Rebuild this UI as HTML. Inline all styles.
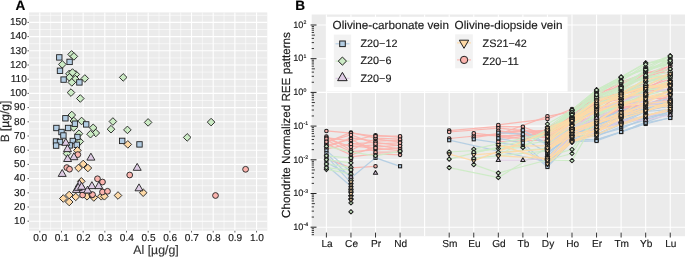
<!DOCTYPE html>
<html><head><meta charset="utf-8"><style>
html,body{margin:0;padding:0;background:#fff;overflow:hidden}
svg{display:block;will-change:transform}
text{font-family:"Liberation Sans", sans-serif;stroke:currentColor;stroke-width:0.15px;text-rendering:geometricPrecision}
</style></head><body>
<svg width="685" height="257" viewBox="0 0 685 257">
<rect width="685" height="257" fill="#fff"/>
<rect x="29.0" y="12.4" width="238.30" height="218.40" fill="#EBEBEB"/>
<line x1="50.64" y1="12.4" x2="50.64" y2="230.8" stroke="#fff" stroke-width="0.55"/>
<line x1="72.31" y1="12.4" x2="72.31" y2="230.8" stroke="#fff" stroke-width="0.55"/>
<line x1="93.99" y1="12.4" x2="93.99" y2="230.8" stroke="#fff" stroke-width="0.55"/>
<line x1="115.66" y1="12.4" x2="115.66" y2="230.8" stroke="#fff" stroke-width="0.55"/>
<line x1="137.34" y1="12.4" x2="137.34" y2="230.8" stroke="#fff" stroke-width="0.55"/>
<line x1="159.01" y1="12.4" x2="159.01" y2="230.8" stroke="#fff" stroke-width="0.55"/>
<line x1="180.69" y1="12.4" x2="180.69" y2="230.8" stroke="#fff" stroke-width="0.55"/>
<line x1="202.36" y1="12.4" x2="202.36" y2="230.8" stroke="#fff" stroke-width="0.55"/>
<line x1="224.04" y1="12.4" x2="224.04" y2="230.8" stroke="#fff" stroke-width="0.55"/>
<line x1="245.71" y1="12.4" x2="245.71" y2="230.8" stroke="#fff" stroke-width="0.55"/>
<line x1="29.0" y1="228.30" x2="267.3" y2="228.30" stroke="#fff" stroke-width="0.55"/>
<line x1="29.0" y1="214.10" x2="267.3" y2="214.10" stroke="#fff" stroke-width="0.55"/>
<line x1="29.0" y1="199.90" x2="267.3" y2="199.90" stroke="#fff" stroke-width="0.55"/>
<line x1="29.0" y1="185.70" x2="267.3" y2="185.70" stroke="#fff" stroke-width="0.55"/>
<line x1="29.0" y1="171.50" x2="267.3" y2="171.50" stroke="#fff" stroke-width="0.55"/>
<line x1="29.0" y1="157.30" x2="267.3" y2="157.30" stroke="#fff" stroke-width="0.55"/>
<line x1="29.0" y1="143.10" x2="267.3" y2="143.10" stroke="#fff" stroke-width="0.55"/>
<line x1="29.0" y1="128.90" x2="267.3" y2="128.90" stroke="#fff" stroke-width="0.55"/>
<line x1="29.0" y1="114.70" x2="267.3" y2="114.70" stroke="#fff" stroke-width="0.55"/>
<line x1="29.0" y1="100.50" x2="267.3" y2="100.50" stroke="#fff" stroke-width="0.55"/>
<line x1="29.0" y1="86.30" x2="267.3" y2="86.30" stroke="#fff" stroke-width="0.55"/>
<line x1="29.0" y1="72.10" x2="267.3" y2="72.10" stroke="#fff" stroke-width="0.55"/>
<line x1="29.0" y1="57.90" x2="267.3" y2="57.90" stroke="#fff" stroke-width="0.55"/>
<line x1="29.0" y1="43.70" x2="267.3" y2="43.70" stroke="#fff" stroke-width="0.55"/>
<line x1="29.0" y1="29.50" x2="267.3" y2="29.50" stroke="#fff" stroke-width="0.55"/>
<line x1="29.0" y1="15.30" x2="267.3" y2="15.30" stroke="#fff" stroke-width="0.55"/>
<line x1="39.80" y1="12.4" x2="39.80" y2="230.8" stroke="#fff" stroke-width="1.1"/>
<line x1="61.47" y1="12.4" x2="61.47" y2="230.8" stroke="#fff" stroke-width="1.1"/>
<line x1="83.15" y1="12.4" x2="83.15" y2="230.8" stroke="#fff" stroke-width="1.1"/>
<line x1="104.83" y1="12.4" x2="104.83" y2="230.8" stroke="#fff" stroke-width="1.1"/>
<line x1="126.50" y1="12.4" x2="126.50" y2="230.8" stroke="#fff" stroke-width="1.1"/>
<line x1="148.18" y1="12.4" x2="148.18" y2="230.8" stroke="#fff" stroke-width="1.1"/>
<line x1="169.85" y1="12.4" x2="169.85" y2="230.8" stroke="#fff" stroke-width="1.1"/>
<line x1="191.53" y1="12.4" x2="191.53" y2="230.8" stroke="#fff" stroke-width="1.1"/>
<line x1="213.20" y1="12.4" x2="213.20" y2="230.8" stroke="#fff" stroke-width="1.1"/>
<line x1="234.88" y1="12.4" x2="234.88" y2="230.8" stroke="#fff" stroke-width="1.1"/>
<line x1="256.55" y1="12.4" x2="256.55" y2="230.8" stroke="#fff" stroke-width="1.1"/>
<line x1="29.0" y1="221.20" x2="267.3" y2="221.20" stroke="#fff" stroke-width="1.1"/>
<line x1="29.0" y1="207.00" x2="267.3" y2="207.00" stroke="#fff" stroke-width="1.1"/>
<line x1="29.0" y1="192.80" x2="267.3" y2="192.80" stroke="#fff" stroke-width="1.1"/>
<line x1="29.0" y1="178.60" x2="267.3" y2="178.60" stroke="#fff" stroke-width="1.1"/>
<line x1="29.0" y1="164.40" x2="267.3" y2="164.40" stroke="#fff" stroke-width="1.1"/>
<line x1="29.0" y1="150.20" x2="267.3" y2="150.20" stroke="#fff" stroke-width="1.1"/>
<line x1="29.0" y1="136.00" x2="267.3" y2="136.00" stroke="#fff" stroke-width="1.1"/>
<line x1="29.0" y1="121.80" x2="267.3" y2="121.80" stroke="#fff" stroke-width="1.1"/>
<line x1="29.0" y1="107.60" x2="267.3" y2="107.60" stroke="#fff" stroke-width="1.1"/>
<line x1="29.0" y1="93.40" x2="267.3" y2="93.40" stroke="#fff" stroke-width="1.1"/>
<line x1="29.0" y1="79.20" x2="267.3" y2="79.20" stroke="#fff" stroke-width="1.1"/>
<line x1="29.0" y1="65.00" x2="267.3" y2="65.00" stroke="#fff" stroke-width="1.1"/>
<line x1="29.0" y1="50.80" x2="267.3" y2="50.80" stroke="#fff" stroke-width="1.1"/>
<line x1="29.0" y1="36.60" x2="267.3" y2="36.60" stroke="#fff" stroke-width="1.1"/>
<line x1="29.0" y1="22.40" x2="267.3" y2="22.40" stroke="#fff" stroke-width="1.1"/>
<line x1="39.80" y1="230.8" x2="39.80" y2="232.50" stroke="#555" stroke-width="0.9"/>
<text x="40.15" y="240.90" font-size="10.1" text-anchor="middle" fill="#1a1a1a" color="#1a1a1a" font-weight="normal" >0.0</text>
<line x1="61.47" y1="230.8" x2="61.47" y2="232.50" stroke="#555" stroke-width="0.9"/>
<text x="61.82" y="240.90" font-size="10.1" text-anchor="middle" fill="#1a1a1a" color="#1a1a1a" font-weight="normal" >0.1</text>
<line x1="83.15" y1="230.8" x2="83.15" y2="232.50" stroke="#555" stroke-width="0.9"/>
<text x="83.50" y="240.90" font-size="10.1" text-anchor="middle" fill="#1a1a1a" color="#1a1a1a" font-weight="normal" >0.2</text>
<line x1="104.83" y1="230.8" x2="104.83" y2="232.50" stroke="#555" stroke-width="0.9"/>
<text x="105.17" y="240.90" font-size="10.1" text-anchor="middle" fill="#1a1a1a" color="#1a1a1a" font-weight="normal" >0.3</text>
<line x1="126.50" y1="230.8" x2="126.50" y2="232.50" stroke="#555" stroke-width="0.9"/>
<text x="126.85" y="240.90" font-size="10.1" text-anchor="middle" fill="#1a1a1a" color="#1a1a1a" font-weight="normal" >0.4</text>
<line x1="148.18" y1="230.8" x2="148.18" y2="232.50" stroke="#555" stroke-width="0.9"/>
<text x="148.53" y="240.90" font-size="10.1" text-anchor="middle" fill="#1a1a1a" color="#1a1a1a" font-weight="normal" >0.5</text>
<line x1="169.85" y1="230.8" x2="169.85" y2="232.50" stroke="#555" stroke-width="0.9"/>
<text x="170.20" y="240.90" font-size="10.1" text-anchor="middle" fill="#1a1a1a" color="#1a1a1a" font-weight="normal" >0.6</text>
<line x1="191.53" y1="230.8" x2="191.53" y2="232.50" stroke="#555" stroke-width="0.9"/>
<text x="191.88" y="240.90" font-size="10.1" text-anchor="middle" fill="#1a1a1a" color="#1a1a1a" font-weight="normal" >0.7</text>
<line x1="213.20" y1="230.8" x2="213.20" y2="232.50" stroke="#555" stroke-width="0.9"/>
<text x="213.55" y="240.90" font-size="10.1" text-anchor="middle" fill="#1a1a1a" color="#1a1a1a" font-weight="normal" >0.8</text>
<line x1="234.88" y1="230.8" x2="234.88" y2="232.50" stroke="#555" stroke-width="0.9"/>
<text x="235.22" y="240.90" font-size="10.1" text-anchor="middle" fill="#1a1a1a" color="#1a1a1a" font-weight="normal" >0.9</text>
<line x1="256.55" y1="230.8" x2="256.55" y2="232.50" stroke="#555" stroke-width="0.9"/>
<text x="256.90" y="240.90" font-size="10.1" text-anchor="middle" fill="#1a1a1a" color="#1a1a1a" font-weight="normal" >1.0</text>
<line x1="27.50" y1="221.20" x2="29.0" y2="221.20" stroke="#555" stroke-width="0.9"/>
<text x="25.30" y="223.90" font-size="10.1" text-anchor="end" fill="#1a1a1a" color="#1a1a1a" font-weight="normal" >10</text>
<line x1="27.50" y1="207.00" x2="29.0" y2="207.00" stroke="#555" stroke-width="0.9"/>
<text x="25.30" y="209.70" font-size="10.1" text-anchor="end" fill="#1a1a1a" color="#1a1a1a" font-weight="normal" >20</text>
<line x1="27.50" y1="192.80" x2="29.0" y2="192.80" stroke="#555" stroke-width="0.9"/>
<text x="25.30" y="195.50" font-size="10.1" text-anchor="end" fill="#1a1a1a" color="#1a1a1a" font-weight="normal" >30</text>
<line x1="27.50" y1="178.60" x2="29.0" y2="178.60" stroke="#555" stroke-width="0.9"/>
<text x="25.30" y="181.30" font-size="10.1" text-anchor="end" fill="#1a1a1a" color="#1a1a1a" font-weight="normal" >40</text>
<line x1="27.50" y1="164.40" x2="29.0" y2="164.40" stroke="#555" stroke-width="0.9"/>
<text x="25.30" y="167.10" font-size="10.1" text-anchor="end" fill="#1a1a1a" color="#1a1a1a" font-weight="normal" >50</text>
<line x1="27.50" y1="150.20" x2="29.0" y2="150.20" stroke="#555" stroke-width="0.9"/>
<text x="25.30" y="152.90" font-size="10.1" text-anchor="end" fill="#1a1a1a" color="#1a1a1a" font-weight="normal" >60</text>
<line x1="27.50" y1="136.00" x2="29.0" y2="136.00" stroke="#555" stroke-width="0.9"/>
<text x="25.30" y="138.70" font-size="10.1" text-anchor="end" fill="#1a1a1a" color="#1a1a1a" font-weight="normal" >70</text>
<line x1="27.50" y1="121.80" x2="29.0" y2="121.80" stroke="#555" stroke-width="0.9"/>
<text x="25.30" y="124.50" font-size="10.1" text-anchor="end" fill="#1a1a1a" color="#1a1a1a" font-weight="normal" >80</text>
<line x1="27.50" y1="107.60" x2="29.0" y2="107.60" stroke="#555" stroke-width="0.9"/>
<text x="25.30" y="110.30" font-size="10.1" text-anchor="end" fill="#1a1a1a" color="#1a1a1a" font-weight="normal" >90</text>
<line x1="27.50" y1="93.40" x2="29.0" y2="93.40" stroke="#555" stroke-width="0.9"/>
<text x="26.80" y="96.10" font-size="10.1" text-anchor="end" fill="#1a1a1a" color="#1a1a1a" font-weight="normal" >100</text>
<line x1="27.50" y1="79.20" x2="29.0" y2="79.20" stroke="#555" stroke-width="0.9"/>
<text x="26.80" y="81.90" font-size="10.1" text-anchor="end" fill="#1a1a1a" color="#1a1a1a" font-weight="normal" >110</text>
<line x1="27.50" y1="65.00" x2="29.0" y2="65.00" stroke="#555" stroke-width="0.9"/>
<text x="26.80" y="67.70" font-size="10.1" text-anchor="end" fill="#1a1a1a" color="#1a1a1a" font-weight="normal" >120</text>
<line x1="27.50" y1="50.80" x2="29.0" y2="50.80" stroke="#555" stroke-width="0.9"/>
<text x="26.80" y="53.50" font-size="10.1" text-anchor="end" fill="#1a1a1a" color="#1a1a1a" font-weight="normal" >130</text>
<line x1="27.50" y1="36.60" x2="29.0" y2="36.60" stroke="#555" stroke-width="0.9"/>
<text x="26.80" y="39.30" font-size="10.1" text-anchor="end" fill="#1a1a1a" color="#1a1a1a" font-weight="normal" >140</text>
<line x1="27.50" y1="22.40" x2="29.0" y2="22.40" stroke="#555" stroke-width="0.9"/>
<text x="26.80" y="25.10" font-size="10.1" text-anchor="end" fill="#1a1a1a" color="#1a1a1a" font-weight="normal" >150</text>
<text x="156.00" y="254.40" font-size="12.3" text-anchor="middle" fill="#333" color="#333" font-weight="normal" >Al [µg/g]</text>
<text transform="translate(9.4 121.5) rotate(-90)" x="0" y="0" font-size="12" text-anchor="middle" fill="#333">B [µg/g]</text>
<text x="15.40" y="9.80" font-size="13.6" text-anchor="start" fill="#000" color="#000" font-weight="bold" >A</text>
<path d="M71.60 50.60L75.40 54.40L71.60 58.20L67.80 54.40Z" fill="#CCEBC5" stroke="#1f1f1f" stroke-width="0.9" stroke-linejoin="round"/>
<path d="M73.90 52.60L77.70 56.40L73.90 60.20L70.10 56.40Z" fill="#CCEBC5" stroke="#1f1f1f" stroke-width="0.9" stroke-linejoin="round"/>
<path d="M62.30 60.60L66.10 64.40L62.30 68.20L58.50 64.40Z" fill="#CCEBC5" stroke="#1f1f1f" stroke-width="0.9" stroke-linejoin="round"/>
<path d="M69.40 70.00L73.20 73.80L69.40 77.60L65.60 73.80Z" fill="#CCEBC5" stroke="#1f1f1f" stroke-width="0.9" stroke-linejoin="round"/>
<path d="M75.80 70.60L79.60 74.40L75.80 78.20L72.00 74.40Z" fill="#CCEBC5" stroke="#1f1f1f" stroke-width="0.9" stroke-linejoin="round"/>
<path d="M72.50 68.70L76.30 72.50L72.50 76.30L68.70 72.50Z" fill="#CCEBC5" stroke="#1f1f1f" stroke-width="0.9" stroke-linejoin="round"/>
<path d="M69.40 73.50L73.20 77.30L69.40 81.10L65.60 77.30Z" fill="#CCEBC5" stroke="#1f1f1f" stroke-width="0.9" stroke-linejoin="round"/>
<path d="M75.30 75.30L79.10 79.10L75.30 82.90L71.50 79.10Z" fill="#CCEBC5" stroke="#1f1f1f" stroke-width="0.9" stroke-linejoin="round"/>
<path d="M71.80 78.60L75.60 82.40L71.80 86.20L68.00 82.40Z" fill="#CCEBC5" stroke="#1f1f1f" stroke-width="0.9" stroke-linejoin="round"/>
<path d="M84.80 74.70L88.60 78.50L84.80 82.30L81.00 78.50Z" fill="#CCEBC5" stroke="#1f1f1f" stroke-width="0.9" stroke-linejoin="round"/>
<path d="M71.00 88.80L74.80 92.60L71.00 96.40L67.20 92.60Z" fill="#CCEBC5" stroke="#1f1f1f" stroke-width="0.9" stroke-linejoin="round"/>
<path d="M80.30 94.70L84.10 98.50L80.30 102.30L76.50 98.50Z" fill="#CCEBC5" stroke="#1f1f1f" stroke-width="0.9" stroke-linejoin="round"/>
<path d="M123.20 73.60L127.00 77.40L123.20 81.20L119.40 77.40Z" fill="#CCEBC5" stroke="#1f1f1f" stroke-width="0.9" stroke-linejoin="round"/>
<path d="M71.80 111.20L75.60 115.00L71.80 118.80L68.00 115.00Z" fill="#CCEBC5" stroke="#1f1f1f" stroke-width="0.9" stroke-linejoin="round"/>
<path d="M73.80 117.20L77.60 121.00L73.80 124.80L70.00 121.00Z" fill="#CCEBC5" stroke="#1f1f1f" stroke-width="0.9" stroke-linejoin="round"/>
<path d="M81.60 117.20L85.40 121.00L81.60 124.80L77.80 121.00Z" fill="#CCEBC5" stroke="#1f1f1f" stroke-width="0.9" stroke-linejoin="round"/>
<path d="M73.60 123.70L77.40 127.50L73.60 131.30L69.80 127.50Z" fill="#CCEBC5" stroke="#1f1f1f" stroke-width="0.9" stroke-linejoin="round"/>
<path d="M79.00 129.90L82.80 133.70L79.00 137.50L75.20 133.70Z" fill="#CCEBC5" stroke="#1f1f1f" stroke-width="0.9" stroke-linejoin="round"/>
<path d="M79.80 137.70L83.60 141.50L79.80 145.30L76.00 141.50Z" fill="#CCEBC5" stroke="#1f1f1f" stroke-width="0.9" stroke-linejoin="round"/>
<path d="M93.20 124.00L97.00 127.80L93.20 131.60L89.40 127.80Z" fill="#CCEBC5" stroke="#1f1f1f" stroke-width="0.9" stroke-linejoin="round"/>
<path d="M95.80 129.20L99.60 133.00L95.80 136.80L92.00 133.00Z" fill="#CCEBC5" stroke="#1f1f1f" stroke-width="0.9" stroke-linejoin="round"/>
<path d="M90.50 130.40L94.30 134.20L90.50 138.00L86.70 134.20Z" fill="#CCEBC5" stroke="#1f1f1f" stroke-width="0.9" stroke-linejoin="round"/>
<path d="M112.90 117.70L116.70 121.50L112.90 125.30L109.10 121.50Z" fill="#CCEBC5" stroke="#1f1f1f" stroke-width="0.9" stroke-linejoin="round"/>
<path d="M111.00 125.40L114.80 129.20L111.00 133.00L107.20 129.20Z" fill="#CCEBC5" stroke="#1f1f1f" stroke-width="0.9" stroke-linejoin="round"/>
<path d="M127.40 126.10L131.20 129.90L127.40 133.70L123.60 129.90Z" fill="#CCEBC5" stroke="#1f1f1f" stroke-width="0.9" stroke-linejoin="round"/>
<path d="M148.10 118.60L151.90 122.40L148.10 126.20L144.30 122.40Z" fill="#CCEBC5" stroke="#1f1f1f" stroke-width="0.9" stroke-linejoin="round"/>
<path d="M187.20 133.60L191.00 137.40L187.20 141.20L183.40 137.40Z" fill="#CCEBC5" stroke="#1f1f1f" stroke-width="0.9" stroke-linejoin="round"/>
<path d="M211.10 118.30L214.90 122.10L211.10 125.90L207.30 122.10Z" fill="#CCEBC5" stroke="#1f1f1f" stroke-width="0.9" stroke-linejoin="round"/>
<path d="M67.00 149.70L70.80 153.50L67.00 157.30L63.20 153.50Z" fill="#CCEBC5" stroke="#1f1f1f" stroke-width="0.9" stroke-linejoin="round"/>
<rect x="56.60" y="54.70" width="5.40" height="5.40" fill="#B3CDE3" stroke="#1f1f1f" stroke-width="0.9"/>
<rect x="66.90" y="59.20" width="5.40" height="5.40" fill="#B3CDE3" stroke="#1f1f1f" stroke-width="0.9"/>
<rect x="57.30" y="68.10" width="5.40" height="5.40" fill="#B3CDE3" stroke="#1f1f1f" stroke-width="0.9"/>
<rect x="60.90" y="76.90" width="5.40" height="5.40" fill="#B3CDE3" stroke="#1f1f1f" stroke-width="0.9"/>
<rect x="76.70" y="79.70" width="5.40" height="5.40" fill="#B3CDE3" stroke="#1f1f1f" stroke-width="0.9"/>
<rect x="62.70" y="115.60" width="5.40" height="5.40" fill="#B3CDE3" stroke="#1f1f1f" stroke-width="0.9"/>
<rect x="72.20" y="121.00" width="5.40" height="5.40" fill="#B3CDE3" stroke="#1f1f1f" stroke-width="0.9"/>
<rect x="83.50" y="121.70" width="5.40" height="5.40" fill="#B3CDE3" stroke="#1f1f1f" stroke-width="0.9"/>
<rect x="53.70" y="125.30" width="5.40" height="5.40" fill="#B3CDE3" stroke="#1f1f1f" stroke-width="0.9"/>
<rect x="65.40" y="125.30" width="5.40" height="5.40" fill="#B3CDE3" stroke="#1f1f1f" stroke-width="0.9"/>
<rect x="58.80" y="129.30" width="5.40" height="5.40" fill="#B3CDE3" stroke="#1f1f1f" stroke-width="0.9"/>
<rect x="60.70" y="132.80" width="5.40" height="5.40" fill="#B3CDE3" stroke="#1f1f1f" stroke-width="0.9"/>
<rect x="74.70" y="134.30" width="5.40" height="5.40" fill="#B3CDE3" stroke="#1f1f1f" stroke-width="0.9"/>
<rect x="53.30" y="138.80" width="5.40" height="5.40" fill="#B3CDE3" stroke="#1f1f1f" stroke-width="0.9"/>
<rect x="57.30" y="139.30" width="5.40" height="5.40" fill="#B3CDE3" stroke="#1f1f1f" stroke-width="0.9"/>
<rect x="70.10" y="138.30" width="5.40" height="5.40" fill="#B3CDE3" stroke="#1f1f1f" stroke-width="0.9"/>
<rect x="74.10" y="142.10" width="5.40" height="5.40" fill="#B3CDE3" stroke="#1f1f1f" stroke-width="0.9"/>
<rect x="53.40" y="142.90" width="5.40" height="5.40" fill="#B3CDE3" stroke="#1f1f1f" stroke-width="0.9"/>
<rect x="67.00" y="142.70" width="5.40" height="5.40" fill="#B3CDE3" stroke="#1f1f1f" stroke-width="0.9"/>
<rect x="119.50" y="138.20" width="5.40" height="5.40" fill="#B3CDE3" stroke="#1f1f1f" stroke-width="0.9"/>
<rect x="136.80" y="141.70" width="5.40" height="5.40" fill="#B3CDE3" stroke="#1f1f1f" stroke-width="0.9"/>
<path d="M78.50 164.20L82.30 168.00L78.50 171.80L74.70 168.00Z" fill="#FED9A6" stroke="#1f1f1f" stroke-width="0.9" stroke-linejoin="round"/>
<path d="M83.20 160.20L87.00 164.00L83.20 167.80L79.40 164.00Z" fill="#FED9A6" stroke="#1f1f1f" stroke-width="0.9" stroke-linejoin="round"/>
<path d="M87.90 164.20L91.70 168.00L87.90 171.80L84.10 168.00Z" fill="#FED9A6" stroke="#1f1f1f" stroke-width="0.9" stroke-linejoin="round"/>
<path d="M81.30 177.50L85.10 181.30L81.30 185.10L77.50 181.30Z" fill="#FED9A6" stroke="#1f1f1f" stroke-width="0.9" stroke-linejoin="round"/>
<path d="M69.20 191.20L73.00 195.00L69.20 198.80L65.40 195.00Z" fill="#FED9A6" stroke="#1f1f1f" stroke-width="0.9" stroke-linejoin="round"/>
<path d="M63.30 194.70L67.10 198.50L63.30 202.30L59.50 198.50Z" fill="#FED9A6" stroke="#1f1f1f" stroke-width="0.9" stroke-linejoin="round"/>
<path d="M69.20 198.20L73.00 202.00L69.20 205.80L65.40 202.00Z" fill="#FED9A6" stroke="#1f1f1f" stroke-width="0.9" stroke-linejoin="round"/>
<path d="M75.70 193.10L79.50 196.90L75.70 200.70L71.90 196.90Z" fill="#FED9A6" stroke="#1f1f1f" stroke-width="0.9" stroke-linejoin="round"/>
<path d="M87.00 192.50L90.80 196.30L87.00 200.10L83.20 196.30Z" fill="#FED9A6" stroke="#1f1f1f" stroke-width="0.9" stroke-linejoin="round"/>
<path d="M93.80 193.70L97.60 197.50L93.80 201.30L90.00 197.50Z" fill="#FED9A6" stroke="#1f1f1f" stroke-width="0.9" stroke-linejoin="round"/>
<path d="M101.30 192.50L105.10 196.30L101.30 200.10L97.50 196.30Z" fill="#FED9A6" stroke="#1f1f1f" stroke-width="0.9" stroke-linejoin="round"/>
<path d="M104.40 192.50L108.20 196.30L104.40 200.10L100.60 196.30Z" fill="#FED9A6" stroke="#1f1f1f" stroke-width="0.9" stroke-linejoin="round"/>
<path d="M118.00 191.70L121.80 195.50L118.00 199.30L114.20 195.50Z" fill="#FED9A6" stroke="#1f1f1f" stroke-width="0.9" stroke-linejoin="round"/>
<path d="M143.20 188.90L147.00 192.70L143.20 196.50L139.40 192.70Z" fill="#FED9A6" stroke="#1f1f1f" stroke-width="0.9" stroke-linejoin="round"/>
<path d="M127.80 140.60L131.60 144.40L127.80 148.20L124.00 144.40Z" fill="#FED9A6" stroke="#1f1f1f" stroke-width="0.9" stroke-linejoin="round"/>
<path d="M77.40 146.60L81.20 150.40L77.40 154.20L73.60 150.40Z" fill="#FED9A6" stroke="#1f1f1f" stroke-width="0.9" stroke-linejoin="round"/>
<circle cx="77.80" cy="154.60" r="2.90" fill="#FBB4AE" stroke="#1f1f1f" stroke-width="0.9"/>
<circle cx="66.80" cy="167.60" r="2.90" fill="#FBB4AE" stroke="#1f1f1f" stroke-width="0.9"/>
<circle cx="69.50" cy="169.20" r="2.90" fill="#FBB4AE" stroke="#1f1f1f" stroke-width="0.9"/>
<circle cx="97.50" cy="178.80" r="2.90" fill="#FBB4AE" stroke="#1f1f1f" stroke-width="0.9"/>
<circle cx="102.50" cy="182.00" r="2.90" fill="#FBB4AE" stroke="#1f1f1f" stroke-width="0.9"/>
<circle cx="102.50" cy="192.00" r="2.90" fill="#FBB4AE" stroke="#1f1f1f" stroke-width="0.9"/>
<circle cx="107.50" cy="191.30" r="2.90" fill="#FBB4AE" stroke="#1f1f1f" stroke-width="0.9"/>
<circle cx="82.60" cy="195.00" r="2.90" fill="#FBB4AE" stroke="#1f1f1f" stroke-width="0.9"/>
<circle cx="91.90" cy="195.00" r="2.90" fill="#FBB4AE" stroke="#1f1f1f" stroke-width="0.9"/>
<circle cx="92.50" cy="194.60" r="2.90" fill="#FBB4AE" stroke="#1f1f1f" stroke-width="0.9"/>
<circle cx="129.70" cy="175.00" r="2.90" fill="#FBB4AE" stroke="#1f1f1f" stroke-width="0.9"/>
<circle cx="215.50" cy="195.50" r="2.90" fill="#FBB4AE" stroke="#1f1f1f" stroke-width="0.9"/>
<circle cx="245.60" cy="169.30" r="2.90" fill="#FBB4AE" stroke="#1f1f1f" stroke-width="0.9"/>
<path d="M65.80 138.38L69.80 145.31L61.80 145.31Z" fill="#DECBE4" stroke="#1f1f1f" stroke-width="0.9" stroke-linejoin="round"/>
<path d="M67.50 144.68L71.50 151.61L63.50 151.61Z" fill="#DECBE4" stroke="#1f1f1f" stroke-width="0.9" stroke-linejoin="round"/>
<path d="M73.90 152.78L77.90 159.71L69.90 159.71Z" fill="#DECBE4" stroke="#1f1f1f" stroke-width="0.9" stroke-linejoin="round"/>
<path d="M67.60 154.58L71.60 161.51L63.60 161.51Z" fill="#DECBE4" stroke="#1f1f1f" stroke-width="0.9" stroke-linejoin="round"/>
<path d="M90.90 153.18L94.90 160.11L86.90 160.11Z" fill="#DECBE4" stroke="#1f1f1f" stroke-width="0.9" stroke-linejoin="round"/>
<path d="M62.20 169.48L66.20 176.41L58.20 176.41Z" fill="#DECBE4" stroke="#1f1f1f" stroke-width="0.9" stroke-linejoin="round"/>
<path d="M79.50 179.88L83.50 186.81L75.50 186.81Z" fill="#DECBE4" stroke="#1f1f1f" stroke-width="0.9" stroke-linejoin="round"/>
<path d="M76.40 185.48L80.40 192.41L72.40 192.41Z" fill="#DECBE4" stroke="#1f1f1f" stroke-width="0.9" stroke-linejoin="round"/>
<path d="M83.20 185.48L87.20 192.41L79.20 192.41Z" fill="#DECBE4" stroke="#1f1f1f" stroke-width="0.9" stroke-linejoin="round"/>
<path d="M78.20 183.38L82.20 190.31L74.20 190.31Z" fill="#DECBE4" stroke="#1f1f1f" stroke-width="0.9" stroke-linejoin="round"/>
<path d="M81.60 182.38L85.60 189.31L77.60 189.31Z" fill="#DECBE4" stroke="#1f1f1f" stroke-width="0.9" stroke-linejoin="round"/>
<path d="M87.60 186.08L91.60 193.01L83.60 193.01Z" fill="#DECBE4" stroke="#1f1f1f" stroke-width="0.9" stroke-linejoin="round"/>
<path d="M91.90 181.68L95.90 188.61L87.90 188.61Z" fill="#DECBE4" stroke="#1f1f1f" stroke-width="0.9" stroke-linejoin="round"/>
<path d="M98.80 181.68L102.80 188.61L94.80 188.61Z" fill="#DECBE4" stroke="#1f1f1f" stroke-width="0.9" stroke-linejoin="round"/>
<path d="M137.20 163.38L141.20 170.31L133.20 170.31Z" fill="#DECBE4" stroke="#1f1f1f" stroke-width="0.9" stroke-linejoin="round"/>
<path d="M139.00 183.88L143.00 190.81L135.00 190.81Z" fill="#DECBE4" stroke="#1f1f1f" stroke-width="0.9" stroke-linejoin="round"/>
<rect x="311.7" y="14.5" width="373.30" height="221.70" fill="#EBEBEB"/>
<line x1="326.40" y1="14.5" x2="326.40" y2="236.2" stroke="#fff" stroke-width="1.1"/>
<line x1="350.96" y1="14.5" x2="350.96" y2="236.2" stroke="#fff" stroke-width="1.1"/>
<line x1="375.52" y1="14.5" x2="375.52" y2="236.2" stroke="#fff" stroke-width="1.1"/>
<line x1="400.08" y1="14.5" x2="400.08" y2="236.2" stroke="#fff" stroke-width="1.1"/>
<line x1="424.64" y1="14.5" x2="424.64" y2="236.2" stroke="#fff" stroke-width="1.1"/>
<line x1="449.20" y1="14.5" x2="449.20" y2="236.2" stroke="#fff" stroke-width="1.1"/>
<line x1="473.76" y1="14.5" x2="473.76" y2="236.2" stroke="#fff" stroke-width="1.1"/>
<line x1="498.32" y1="14.5" x2="498.32" y2="236.2" stroke="#fff" stroke-width="1.1"/>
<line x1="522.88" y1="14.5" x2="522.88" y2="236.2" stroke="#fff" stroke-width="1.1"/>
<line x1="547.44" y1="14.5" x2="547.44" y2="236.2" stroke="#fff" stroke-width="1.1"/>
<line x1="572.00" y1="14.5" x2="572.00" y2="236.2" stroke="#fff" stroke-width="1.1"/>
<line x1="596.56" y1="14.5" x2="596.56" y2="236.2" stroke="#fff" stroke-width="1.1"/>
<line x1="621.12" y1="14.5" x2="621.12" y2="236.2" stroke="#fff" stroke-width="1.1"/>
<line x1="645.68" y1="14.5" x2="645.68" y2="236.2" stroke="#fff" stroke-width="1.1"/>
<line x1="670.24" y1="14.5" x2="670.24" y2="236.2" stroke="#fff" stroke-width="1.1"/>
<line x1="311.7" y1="25.00" x2="685.0" y2="25.00" stroke="#fff" stroke-width="1.1"/>
<line x1="311.7" y1="58.70" x2="685.0" y2="58.70" stroke="#fff" stroke-width="1.1"/>
<line x1="311.7" y1="92.40" x2="685.0" y2="92.40" stroke="#fff" stroke-width="1.1"/>
<line x1="311.7" y1="126.10" x2="685.0" y2="126.10" stroke="#fff" stroke-width="1.1"/>
<line x1="311.7" y1="159.80" x2="685.0" y2="159.80" stroke="#fff" stroke-width="1.1"/>
<line x1="311.7" y1="193.50" x2="685.0" y2="193.50" stroke="#fff" stroke-width="1.1"/>
<line x1="311.7" y1="227.20" x2="685.0" y2="227.20" stroke="#fff" stroke-width="1.1"/>
<line x1="326.40" y1="232.6" x2="326.40" y2="237.5" stroke="#333" stroke-width="1"/>
<text x="327.00" y="246.90" font-size="10.1" text-anchor="middle" fill="#1a1a1a" color="#1a1a1a" font-weight="normal" >La</text>
<line x1="350.96" y1="232.6" x2="350.96" y2="237.5" stroke="#333" stroke-width="1"/>
<text x="351.56" y="246.90" font-size="10.1" text-anchor="middle" fill="#1a1a1a" color="#1a1a1a" font-weight="normal" >Ce</text>
<line x1="375.52" y1="232.6" x2="375.52" y2="237.5" stroke="#333" stroke-width="1"/>
<text x="376.12" y="246.90" font-size="10.1" text-anchor="middle" fill="#1a1a1a" color="#1a1a1a" font-weight="normal" >Pr</text>
<line x1="400.08" y1="232.6" x2="400.08" y2="237.5" stroke="#333" stroke-width="1"/>
<text x="400.68" y="246.90" font-size="10.1" text-anchor="middle" fill="#1a1a1a" color="#1a1a1a" font-weight="normal" >Nd</text>
<line x1="449.20" y1="232.6" x2="449.20" y2="237.5" stroke="#333" stroke-width="1"/>
<text x="449.80" y="246.90" font-size="10.1" text-anchor="middle" fill="#1a1a1a" color="#1a1a1a" font-weight="normal" >Sm</text>
<line x1="473.76" y1="232.6" x2="473.76" y2="237.5" stroke="#333" stroke-width="1"/>
<text x="474.36" y="246.90" font-size="10.1" text-anchor="middle" fill="#1a1a1a" color="#1a1a1a" font-weight="normal" >Eu</text>
<line x1="498.32" y1="232.6" x2="498.32" y2="237.5" stroke="#333" stroke-width="1"/>
<text x="498.92" y="246.90" font-size="10.1" text-anchor="middle" fill="#1a1a1a" color="#1a1a1a" font-weight="normal" >Gd</text>
<line x1="522.88" y1="232.6" x2="522.88" y2="237.5" stroke="#333" stroke-width="1"/>
<text x="523.48" y="246.90" font-size="10.1" text-anchor="middle" fill="#1a1a1a" color="#1a1a1a" font-weight="normal" >Tb</text>
<line x1="547.44" y1="232.6" x2="547.44" y2="237.5" stroke="#333" stroke-width="1"/>
<text x="548.04" y="246.90" font-size="10.1" text-anchor="middle" fill="#1a1a1a" color="#1a1a1a" font-weight="normal" >Dy</text>
<line x1="572.00" y1="232.6" x2="572.00" y2="237.5" stroke="#333" stroke-width="1"/>
<text x="572.60" y="246.90" font-size="10.1" text-anchor="middle" fill="#1a1a1a" color="#1a1a1a" font-weight="normal" >Ho</text>
<line x1="596.56" y1="232.6" x2="596.56" y2="237.5" stroke="#333" stroke-width="1"/>
<text x="597.16" y="246.90" font-size="10.1" text-anchor="middle" fill="#1a1a1a" color="#1a1a1a" font-weight="normal" >Er</text>
<line x1="621.12" y1="232.6" x2="621.12" y2="237.5" stroke="#333" stroke-width="1"/>
<text x="621.72" y="246.90" font-size="10.1" text-anchor="middle" fill="#1a1a1a" color="#1a1a1a" font-weight="normal" >Tm</text>
<line x1="645.68" y1="232.6" x2="645.68" y2="237.5" stroke="#333" stroke-width="1"/>
<text x="646.28" y="246.90" font-size="10.1" text-anchor="middle" fill="#1a1a1a" color="#1a1a1a" font-weight="normal" >Yb</text>
<line x1="670.24" y1="232.6" x2="670.24" y2="237.5" stroke="#333" stroke-width="1"/>
<text x="670.84" y="246.90" font-size="10.1" text-anchor="middle" fill="#1a1a1a" color="#1a1a1a" font-weight="normal" >Lu</text>
<line x1="310.6" y1="25.00" x2="316.5" y2="25.00" stroke="#222" stroke-width="1"/>
<text x="293.2" y="27.75" font-size="9.2" fill="#1a1a1a" color="#1a1a1a">10<tspan font-size="5.2" dy="-3.5">2</tspan></text>
<line x1="310.6" y1="58.70" x2="316.5" y2="58.70" stroke="#222" stroke-width="1"/>
<text x="293.2" y="61.45" font-size="9.2" fill="#1a1a1a" color="#1a1a1a">10<tspan font-size="5.2" dy="-3.5">1</tspan></text>
<line x1="310.6" y1="92.40" x2="316.5" y2="92.40" stroke="#222" stroke-width="1"/>
<text x="293.2" y="95.15" font-size="9.2" fill="#1a1a1a" color="#1a1a1a">10<tspan font-size="5.2" dy="-3.5">0</tspan></text>
<line x1="310.6" y1="126.10" x2="316.5" y2="126.10" stroke="#222" stroke-width="1"/>
<text x="293.2" y="128.85" font-size="9.2" fill="#1a1a1a" color="#1a1a1a">10<tspan font-size="5.2" dy="-3.5">-1</tspan></text>
<line x1="310.6" y1="159.80" x2="316.5" y2="159.80" stroke="#222" stroke-width="1"/>
<text x="293.2" y="162.55" font-size="9.2" fill="#1a1a1a" color="#1a1a1a">10<tspan font-size="5.2" dy="-3.5">-2</tspan></text>
<line x1="310.6" y1="193.50" x2="316.5" y2="193.50" stroke="#222" stroke-width="1"/>
<text x="293.2" y="196.25" font-size="9.2" fill="#1a1a1a" color="#1a1a1a">10<tspan font-size="5.2" dy="-3.5">-3</tspan></text>
<line x1="310.6" y1="227.20" x2="316.5" y2="227.20" stroke="#222" stroke-width="1"/>
<text x="293.2" y="229.95" font-size="9.2" fill="#1a1a1a" color="#1a1a1a">10<tspan font-size="5.2" dy="-3.5">-4</tspan></text>
<line x1="311.70" y1="48.56" x2="314.00" y2="48.56" stroke="#222" stroke-width="0.9"/>
<line x1="311.70" y1="42.62" x2="314.00" y2="42.62" stroke="#222" stroke-width="0.9"/>
<line x1="311.70" y1="38.41" x2="314.00" y2="38.41" stroke="#222" stroke-width="0.9"/>
<line x1="311.70" y1="35.14" x2="314.90" y2="35.14" stroke="#222" stroke-width="0.9"/>
<line x1="311.70" y1="32.48" x2="314.00" y2="32.48" stroke="#222" stroke-width="0.9"/>
<line x1="311.70" y1="30.22" x2="314.00" y2="30.22" stroke="#222" stroke-width="0.9"/>
<line x1="311.70" y1="28.27" x2="314.00" y2="28.27" stroke="#222" stroke-width="0.9"/>
<line x1="311.70" y1="26.54" x2="314.00" y2="26.54" stroke="#222" stroke-width="0.9"/>
<line x1="311.70" y1="82.26" x2="314.00" y2="82.26" stroke="#222" stroke-width="0.9"/>
<line x1="311.70" y1="76.32" x2="314.00" y2="76.32" stroke="#222" stroke-width="0.9"/>
<line x1="311.70" y1="72.11" x2="314.00" y2="72.11" stroke="#222" stroke-width="0.9"/>
<line x1="311.70" y1="68.84" x2="314.90" y2="68.84" stroke="#222" stroke-width="0.9"/>
<line x1="311.70" y1="66.18" x2="314.00" y2="66.18" stroke="#222" stroke-width="0.9"/>
<line x1="311.70" y1="63.92" x2="314.00" y2="63.92" stroke="#222" stroke-width="0.9"/>
<line x1="311.70" y1="61.97" x2="314.00" y2="61.97" stroke="#222" stroke-width="0.9"/>
<line x1="311.70" y1="60.24" x2="314.00" y2="60.24" stroke="#222" stroke-width="0.9"/>
<line x1="311.70" y1="115.96" x2="314.00" y2="115.96" stroke="#222" stroke-width="0.9"/>
<line x1="311.70" y1="110.02" x2="314.00" y2="110.02" stroke="#222" stroke-width="0.9"/>
<line x1="311.70" y1="105.81" x2="314.00" y2="105.81" stroke="#222" stroke-width="0.9"/>
<line x1="311.70" y1="102.54" x2="314.90" y2="102.54" stroke="#222" stroke-width="0.9"/>
<line x1="311.70" y1="99.88" x2="314.00" y2="99.88" stroke="#222" stroke-width="0.9"/>
<line x1="311.70" y1="97.62" x2="314.00" y2="97.62" stroke="#222" stroke-width="0.9"/>
<line x1="311.70" y1="95.67" x2="314.00" y2="95.67" stroke="#222" stroke-width="0.9"/>
<line x1="311.70" y1="93.94" x2="314.00" y2="93.94" stroke="#222" stroke-width="0.9"/>
<line x1="311.70" y1="149.66" x2="314.00" y2="149.66" stroke="#222" stroke-width="0.9"/>
<line x1="311.70" y1="143.72" x2="314.00" y2="143.72" stroke="#222" stroke-width="0.9"/>
<line x1="311.70" y1="139.51" x2="314.00" y2="139.51" stroke="#222" stroke-width="0.9"/>
<line x1="311.70" y1="136.24" x2="314.90" y2="136.24" stroke="#222" stroke-width="0.9"/>
<line x1="311.70" y1="133.58" x2="314.00" y2="133.58" stroke="#222" stroke-width="0.9"/>
<line x1="311.70" y1="131.32" x2="314.00" y2="131.32" stroke="#222" stroke-width="0.9"/>
<line x1="311.70" y1="129.37" x2="314.00" y2="129.37" stroke="#222" stroke-width="0.9"/>
<line x1="311.70" y1="127.64" x2="314.00" y2="127.64" stroke="#222" stroke-width="0.9"/>
<line x1="311.70" y1="183.36" x2="314.00" y2="183.36" stroke="#222" stroke-width="0.9"/>
<line x1="311.70" y1="177.42" x2="314.00" y2="177.42" stroke="#222" stroke-width="0.9"/>
<line x1="311.70" y1="173.21" x2="314.00" y2="173.21" stroke="#222" stroke-width="0.9"/>
<line x1="311.70" y1="169.94" x2="314.90" y2="169.94" stroke="#222" stroke-width="0.9"/>
<line x1="311.70" y1="167.28" x2="314.00" y2="167.28" stroke="#222" stroke-width="0.9"/>
<line x1="311.70" y1="165.02" x2="314.00" y2="165.02" stroke="#222" stroke-width="0.9"/>
<line x1="311.70" y1="163.07" x2="314.00" y2="163.07" stroke="#222" stroke-width="0.9"/>
<line x1="311.70" y1="161.34" x2="314.00" y2="161.34" stroke="#222" stroke-width="0.9"/>
<line x1="311.70" y1="217.06" x2="314.00" y2="217.06" stroke="#222" stroke-width="0.9"/>
<line x1="311.70" y1="211.12" x2="314.00" y2="211.12" stroke="#222" stroke-width="0.9"/>
<line x1="311.70" y1="206.91" x2="314.00" y2="206.91" stroke="#222" stroke-width="0.9"/>
<line x1="311.70" y1="203.64" x2="314.90" y2="203.64" stroke="#222" stroke-width="0.9"/>
<line x1="311.70" y1="200.98" x2="314.00" y2="200.98" stroke="#222" stroke-width="0.9"/>
<line x1="311.70" y1="198.72" x2="314.00" y2="198.72" stroke="#222" stroke-width="0.9"/>
<line x1="311.70" y1="196.77" x2="314.00" y2="196.77" stroke="#222" stroke-width="0.9"/>
<line x1="311.70" y1="195.04" x2="314.00" y2="195.04" stroke="#222" stroke-width="0.9"/>
<line x1="311.70" y1="234.68" x2="314.00" y2="234.68" stroke="#222" stroke-width="0.9"/>
<line x1="311.70" y1="232.42" x2="314.00" y2="232.42" stroke="#222" stroke-width="0.9"/>
<line x1="311.70" y1="230.47" x2="314.00" y2="230.47" stroke="#222" stroke-width="0.9"/>
<line x1="311.70" y1="228.74" x2="314.00" y2="228.74" stroke="#222" stroke-width="0.9"/>
<text transform="translate(289.8 125.0) rotate(-90)" x="0" y="0" font-size="11.7" text-anchor="middle" fill="#1a1a1a">Chondrite Normalized REE patterns</text>
<text x="295.20" y="9.70" font-size="13.6" text-anchor="start" fill="#000" color="#000" font-weight="bold" >B</text>
<g><path d="M547.4 129.5L572.0 113.3L596.6 98.4L621.1 83.9L645.7 72.5L670.2 72.7" fill="none" stroke="#FBB4AE" stroke-width="1.25" stroke-opacity="0.95"/><path d="M326.4 147.1L351.0 138.0L375.5 141.1L400.1 140.2" fill="none" stroke="#FBB4AE" stroke-width="1.25" stroke-opacity="0.95"/><path d="M498.3 136.1L547.4 134.2L572.0 122.2L596.6 110.6L621.1 105.6L645.7 98.1L670.2 98.3" fill="none" stroke="#FBB4AE" stroke-width="1.25" stroke-opacity="0.95"/><path d="M547.4 139.6L572.0 128.6L596.6 124.4L621.1 113.2L645.7 104.9L670.2 106.0" fill="none" stroke="#FBB4AE" stroke-width="1.25" stroke-opacity="0.95"/><path d="M498.3 140.0L522.9 136.5L547.4 129.6L572.0 114.6L596.6 96.9L621.1 86.2L645.7 77.4L670.2 69.0" fill="none" stroke="#FBB4AE" stroke-width="1.25" stroke-opacity="0.95"/><path d="M498.3 134.4L547.4 116.3L572.0 111.7L596.6 92.0L621.1 87.4L645.7 76.8L670.2 66.0" fill="none" stroke="#FBB4AE" stroke-width="1.25" stroke-opacity="0.95"/><path d="M326.4 140.2L351.0 151.7L375.5 149.8L400.1 147.8" fill="none" stroke="#FBB4AE" stroke-width="1.25" stroke-opacity="0.95"/><path d="M473.8 135.4L547.4 136.1L572.0 121.7L596.6 117.0L621.1 101.8L645.7 90.5L670.2 92.1" fill="none" stroke="#FBB4AE" stroke-width="1.25" stroke-opacity="0.95"/><path d="M326.4 143.9L351.0 154.8L375.5 147.1L400.1 145.2" fill="none" stroke="#FBB4AE" stroke-width="1.25" stroke-opacity="0.95"/><path d="M473.8 133.1L522.9 138.9L547.4 131.8L572.0 117.4L596.6 107.6L621.1 104.5L645.7 94.8L670.2 82.3" fill="none" stroke="#FBB4AE" stroke-width="1.25" stroke-opacity="0.95"/><path d="M351.0 156.8L375.5 153.8L400.1 154.9" fill="none" stroke="#FBB4AE" stroke-width="1.25" stroke-opacity="0.95"/><path d="M449.2 130.6L498.3 126.4L522.9 126.8L547.4 135.8L572.0 123.9L596.6 122.7L621.1 107.3L645.7 104.6L670.2 99.0" fill="none" stroke="#FBB4AE" stroke-width="1.25" stroke-opacity="0.95"/><path d="M326.4 145.3L351.0 139.3L375.5 152.1L400.1 152.1" fill="none" stroke="#FBB4AE" stroke-width="1.25" stroke-opacity="0.95"/><path d="M498.3 124.9L547.4 118.9L572.0 109.0L596.6 95.7L621.1 82.0L645.7 73.7L670.2 66.0" fill="none" stroke="#FBB4AE" stroke-width="1.25" stroke-opacity="0.95"/><path d="M326.4 136.5L351.0 150.0L375.5 138.8L400.1 142.1" fill="none" stroke="#FBB4AE" stroke-width="1.25" stroke-opacity="0.95"/><path d="M522.9 140.9L547.4 128.8L572.0 113.3L596.6 93.8L621.1 89.8L645.7 73.0L670.2 69.3" fill="none" stroke="#FBB4AE" stroke-width="1.25" stroke-opacity="0.95"/><path d="M547.4 132.1L572.0 115.6L596.6 111.1L621.1 93.8L645.7 85.7L670.2 86.5" fill="none" stroke="#FBB4AE" stroke-width="1.25" stroke-opacity="0.95"/><path d="M326.4 158.7L351.0 167.9L375.5 166.3" fill="none" stroke="#FBB4AE" stroke-width="1.25" stroke-opacity="0.95"/><path d="M547.4 131.2L572.0 116.3L596.6 103.7L621.1 99.1L645.7 87.2L670.2 86.3" fill="none" stroke="#FBB4AE" stroke-width="1.25" stroke-opacity="0.95"/><path d="M326.4 137.7L351.0 141.2L375.5 135.2L400.1 137.3" fill="none" stroke="#FBB4AE" stroke-width="1.25" stroke-opacity="0.95"/><path d="M498.3 138.3L547.4 129.9L572.0 119.1L596.6 103.1L621.1 94.4L645.7 89.1L670.2 75.8" fill="none" stroke="#FBB4AE" stroke-width="1.25" stroke-opacity="0.95"/><path d="M351.0 145.9L400.1 150.7" fill="none" stroke="#FBB4AE" stroke-width="1.25" stroke-opacity="0.95"/><path d="M449.2 132.0L498.3 128.2L547.4 132.6L572.0 119.1L596.6 102.3L621.1 92.0L645.7 89.4L670.2 86.7" fill="none" stroke="#FBB4AE" stroke-width="1.25" stroke-opacity="0.95"/><path d="M522.9 134.2L547.4 135.5L572.0 123.3L596.6 111.8L621.1 100.5L645.7 89.1L670.2 83.2" fill="none" stroke="#FBB4AE" stroke-width="1.25" stroke-opacity="0.95"/><path d="M326.4 138.8L351.0 146.7L375.5 145.0L400.1 149.1" fill="none" stroke="#FBB4AE" stroke-width="1.25" stroke-opacity="0.95"/><path d="M547.4 127.6L572.0 115.5L596.6 97.8L621.1 93.8L645.7 82.6L670.2 73.5" fill="none" stroke="#FBB4AE" stroke-width="1.25" stroke-opacity="0.95"/><path d="M351.0 143.2L375.5 148.0" fill="none" stroke="#FBB4AE" stroke-width="1.25" stroke-opacity="0.95"/><path d="M498.3 131.9L547.4 130.4L572.0 112.5L596.6 99.1L621.1 92.7L645.7 87.2L670.2 79.2" fill="none" stroke="#FBB4AE" stroke-width="1.25" stroke-opacity="0.95"/><path d="M326.4 142.4L351.0 132.5L375.5 138.1L400.1 139.2" fill="none" stroke="#FBB4AE" stroke-width="1.25" stroke-opacity="0.95"/><path d="M498.3 130.7L547.4 138.1L572.0 122.9L596.6 112.0L621.1 105.1L645.7 99.9L670.2 90.7" fill="none" stroke="#FBB4AE" stroke-width="1.25" stroke-opacity="0.95"/><path d="M326.4 130.9L351.0 133.1L375.5 136.1L400.1 136.2" fill="none" stroke="#FBB4AE" stroke-width="1.25" stroke-opacity="0.95"/><path d="M473.8 137.6L522.9 129.7L547.4 137.7L572.0 128.1L596.6 117.6L621.1 110.7L645.7 110.0L670.2 106.0" fill="none" stroke="#FBB4AE" stroke-width="1.25" stroke-opacity="0.95"/><path d="M326.4 149.0L351.0 143.9L375.5 142.3L400.1 145.7" fill="none" stroke="#FBB4AE" stroke-width="1.25" stroke-opacity="0.95"/><path d="M498.3 141.7L547.4 140.0L572.0 130.0L596.6 120.7L621.1 110.5L645.7 103.6L670.2 106.0" fill="none" stroke="#FBB4AE" stroke-width="1.25" stroke-opacity="0.95"/><path d="M326.4 141.8L351.0 134.9L375.5 143.8L400.1 142.8" fill="none" stroke="#FBB4AE" stroke-width="1.25" stroke-opacity="0.95"/><path d="M547.4 139.0L572.0 122.7L596.6 119.6L621.1 108.9L645.7 104.9L670.2 95.6" fill="none" stroke="#FBB4AE" stroke-width="1.25" stroke-opacity="0.95"/><path d="M449.2 138.5L522.9 131.3L547.4 133.0L572.0 123.1L596.6 116.1L621.1 108.5L645.7 99.7L670.2 94.8" fill="none" stroke="#FBB4AE" stroke-width="1.25" stroke-opacity="0.95"/><path d="M498.3 138.3L522.9 142.8L547.4 165.3L572.0 138.6L596.6 139.9L621.1 132.0L645.7 124.0L670.2 117.6" fill="none" stroke="#B3CDE3" stroke-width="1.25" stroke-opacity="0.95"/><path d="M326.4 150.4L351.0 172.2" fill="none" stroke="#B3CDE3" stroke-width="1.25" stroke-opacity="0.95"/><path d="M547.4 153.7L572.0 134.4L596.6 129.1L621.1 123.2L645.7 111.5L670.2 109.5" fill="none" stroke="#B3CDE3" stroke-width="1.25" stroke-opacity="0.95"/><path d="M547.4 141.5L572.0 128.3L596.6 119.5L621.1 114.5L645.7 106.9L670.2 101.6" fill="none" stroke="#B3CDE3" stroke-width="1.25" stroke-opacity="0.95"/><path d="M547.4 158.3L572.0 136.4L596.6 134.9L621.1 128.6L645.7 118.1L670.2 111.9" fill="none" stroke="#B3CDE3" stroke-width="1.25" stroke-opacity="0.95"/><path d="M522.9 130.2L547.4 143.9L572.0 129.0L596.6 125.4L621.1 113.4L645.7 109.1L670.2 100.3" fill="none" stroke="#B3CDE3" stroke-width="1.25" stroke-opacity="0.95"/><path d="M326.4 156.2L351.0 182.9" fill="none" stroke="#B3CDE3" stroke-width="1.25" stroke-opacity="0.95"/><path d="M547.4 148.9L572.0 133.2L596.6 128.1L621.1 116.4L645.7 111.0L670.2 103.4" fill="none" stroke="#B3CDE3" stroke-width="1.25" stroke-opacity="0.95"/><path d="M498.3 132.7L522.9 134.2L547.4 144.2L572.0 131.9L596.6 126.5L621.1 117.2L645.7 112.0L670.2 102.0" fill="none" stroke="#B3CDE3" stroke-width="1.25" stroke-opacity="0.95"/><path d="M522.9 138.3L547.4 152.9L572.0 133.9L596.6 128.9L621.1 121.7L645.7 115.9L670.2 109.1" fill="none" stroke="#B3CDE3" stroke-width="1.25" stroke-opacity="0.95"/><path d="M326.4 165.2L351.0 186.2" fill="none" stroke="#B3CDE3" stroke-width="1.25" stroke-opacity="0.95"/><path d="M449.2 140.2L547.4 161.9L572.0 140.1L596.6 134.6L621.1 123.4L645.7 115.9L670.2 114.9" fill="none" stroke="#B3CDE3" stroke-width="1.25" stroke-opacity="0.95"/><path d="M326.4 153.2L351.0 178.0L375.5 157.8L400.1 166.3" fill="none" stroke="#B3CDE3" stroke-width="1.25" stroke-opacity="0.95"/><path d="M547.4 138.9L572.0 126.8L596.6 118.0L621.1 112.6L645.7 104.0L670.2 98.0" fill="none" stroke="#B3CDE3" stroke-width="1.25" stroke-opacity="0.95"/><path d="M547.4 143.4L572.0 133.7L596.6 125.0L621.1 116.0L645.7 108.9L670.2 106.4" fill="none" stroke="#B3CDE3" stroke-width="1.25" stroke-opacity="0.95"/><path d="M547.4 163.6L572.0 140.4L596.6 139.7L621.1 131.8L645.7 122.2L670.2 113.3" fill="none" stroke="#B3CDE3" stroke-width="1.25" stroke-opacity="0.95"/><path d="M547.4 146.7L572.0 130.7L596.6 128.0L621.1 121.1L645.7 110.9L670.2 105.5" fill="none" stroke="#B3CDE3" stroke-width="1.25" stroke-opacity="0.95"/><path d="M473.8 139.3L522.9 146.3L547.4 167.0L572.0 141.6L596.6 141.0L621.1 132.0L645.7 122.8L670.2 118.0" fill="none" stroke="#B3CDE3" stroke-width="1.25" stroke-opacity="0.95"/><path d="M547.4 136.0L572.0 129.5L596.6 121.6L621.1 110.0L645.7 105.5L670.2 100.5" fill="none" stroke="#B3CDE3" stroke-width="1.25" stroke-opacity="0.95"/><path d="M547.4 155.8L572.0 137.2L596.6 136.2L621.1 126.8L645.7 120.2L670.2 111.3" fill="none" stroke="#B3CDE3" stroke-width="1.25" stroke-opacity="0.95"/><path d="M326.4 162.4L351.0 175.8" fill="none" stroke="#B3CDE3" stroke-width="1.25" stroke-opacity="0.95"/><path d="M547.4 152.4L572.0 136.9L596.6 134.4L621.1 124.5L645.7 117.7L670.2 108.6" fill="none" stroke="#B3CDE3" stroke-width="1.25" stroke-opacity="0.95"/><path d="M449.2 167.6L498.3 177.5L547.4 147.7L572.0 132.9L596.6 115.2L621.1 99.2L645.7 89.7L670.2 80.7" fill="none" stroke="#CCEBC5" stroke-width="1.25" stroke-opacity="0.95"/><path d="M547.4 142.3L572.0 125.2L596.6 108.0L621.1 92.4L645.7 81.6L670.2 78.2" fill="none" stroke="#CCEBC5" stroke-width="1.25" stroke-opacity="0.95"/><path d="M547.4 133.3L572.0 120.2L596.6 105.4L621.1 86.4L645.7 78.2L670.2 74.8" fill="none" stroke="#CCEBC5" stroke-width="1.25" stroke-opacity="0.95"/><path d="M547.4 156.4L572.0 149.4L596.6 114.3L621.1 106.1L645.7 92.6L670.2 89.0" fill="none" stroke="#CCEBC5" stroke-width="1.25" stroke-opacity="0.95"/><path d="M547.4 149.2L572.0 128.7L596.6 115.0L621.1 104.3L645.7 88.2L670.2 91.8" fill="none" stroke="#CCEBC5" stroke-width="1.25" stroke-opacity="0.95"/><path d="M473.8 164.6L498.3 173.0L547.4 160.0L572.0 153.5L596.6 115.5L621.1 104.1L645.7 100.0L670.2 90.5" fill="none" stroke="#CCEBC5" stroke-width="1.25" stroke-opacity="0.95"/><path d="M547.4 141.6L572.0 120.4L596.6 100.3L621.1 90.1L645.7 76.0L670.2 75.8" fill="none" stroke="#CCEBC5" stroke-width="1.25" stroke-opacity="0.95"/><path d="M326.4 155.8L351.0 158.0" fill="none" stroke="#CCEBC5" stroke-width="1.25" stroke-opacity="0.95"/><path d="M473.8 158.2L547.4 150.9L572.0 127.6L596.6 106.1L621.1 96.7L645.7 80.8L670.2 76.9" fill="none" stroke="#CCEBC5" stroke-width="1.25" stroke-opacity="0.95"/><path d="M449.2 152.0L522.9 147.5L547.4 131.3L572.0 110.0L596.6 90.0L621.1 77.0L645.7 63.0L670.2 60.8" fill="none" stroke="#CCEBC5" stroke-width="1.25" stroke-opacity="0.95"/><path d="M547.4 149.8L572.0 130.1L596.6 113.7L621.1 104.1L645.7 90.9L670.2 85.7" fill="none" stroke="#CCEBC5" stroke-width="1.25" stroke-opacity="0.95"/><path d="M326.4 146.3L351.0 151.8L375.5 155.8L400.1 151.1" fill="none" stroke="#CCEBC5" stroke-width="1.25" stroke-opacity="0.95"/><path d="M547.4 134.4L572.0 110.9L596.6 96.9L621.1 86.0L645.7 70.8L670.2 63.1" fill="none" stroke="#CCEBC5" stroke-width="1.25" stroke-opacity="0.95"/><path d="M326.4 169.4L351.0 174.0" fill="none" stroke="#CCEBC5" stroke-width="1.25" stroke-opacity="0.95"/><path d="M547.4 127.5L572.0 110.0L596.6 90.0L621.1 80.3L645.7 67.1L670.2 56.0" fill="none" stroke="#CCEBC5" stroke-width="1.25" stroke-opacity="0.95"/><path d="M547.4 130.6L572.0 112.7L596.6 91.5L621.1 82.8L645.7 72.6L670.2 58.0" fill="none" stroke="#CCEBC5" stroke-width="1.25" stroke-opacity="0.95"/><path d="M498.3 152.3L547.4 148.3L572.0 128.1L596.6 118.3L621.1 98.7L645.7 86.8L670.2 83.8" fill="none" stroke="#CCEBC5" stroke-width="1.25" stroke-opacity="0.95"/><path d="M326.4 159.7L351.0 162.9" fill="none" stroke="#CCEBC5" stroke-width="1.25" stroke-opacity="0.95"/><path d="M473.8 149.2L547.4 132.9L572.0 113.5L596.6 95.6L621.1 77.8L645.7 68.6L670.2 63.7" fill="none" stroke="#CCEBC5" stroke-width="1.25" stroke-opacity="0.95"/><path d="M547.4 140.6L572.0 121.2L596.6 107.2L621.1 90.2L645.7 81.6L670.2 74.3" fill="none" stroke="#CCEBC5" stroke-width="1.25" stroke-opacity="0.95"/><path d="M547.4 130.0L572.0 113.3L596.6 93.5L621.1 77.4L645.7 63.0L670.2 59.7" fill="none" stroke="#CCEBC5" stroke-width="1.25" stroke-opacity="0.95"/><path d="M547.4 160.0L572.0 160.6L596.6 118.2L621.1 105.3L645.7 95.4L670.2 89.1" fill="none" stroke="#CCEBC5" stroke-width="1.25" stroke-opacity="0.95"/><path d="M547.4 144.9L572.0 125.5L596.6 103.4L621.1 96.3L645.7 77.9L670.2 71.5" fill="none" stroke="#CCEBC5" stroke-width="1.25" stroke-opacity="0.95"/><path d="M449.2 159.2L547.4 134.7L572.0 117.7L596.6 97.4L621.1 86.3L645.7 76.3L670.2 62.9" fill="none" stroke="#CCEBC5" stroke-width="1.25" stroke-opacity="0.95"/><path d="M547.4 124.0L572.0 110.0L596.6 90.0L621.1 81.3L645.7 64.3L670.2 56.0" fill="none" stroke="#CCEBC5" stroke-width="1.25" stroke-opacity="0.95"/><path d="M498.3 155.2L547.4 129.6L572.0 112.4L596.6 100.0L621.1 87.6L645.7 75.3L670.2 69.0" fill="none" stroke="#CCEBC5" stroke-width="1.25" stroke-opacity="0.95"/><path d="M326.4 164.0L351.0 167.3" fill="none" stroke="#CCEBC5" stroke-width="1.25" stroke-opacity="0.95"/><path d="M547.4 130.8L572.0 118.6L596.6 97.5L621.1 88.9L645.7 70.9L670.2 62.3" fill="none" stroke="#CCEBC5" stroke-width="1.25" stroke-opacity="0.95"/><path d="M326.4 167.8L351.0 169.9" fill="none" stroke="#CCEBC5" stroke-width="1.25" stroke-opacity="0.95"/><path d="M473.8 152.2L498.3 148.5L547.4 141.0L572.0 129.7L596.6 104.9L621.1 94.3L645.7 84.7L670.2 76.3" fill="none" stroke="#CCEBC5" stroke-width="1.25" stroke-opacity="0.95"/><path d="M547.4 129.4L572.0 114.4L596.6 94.8L621.1 88.0L645.7 69.8L670.2 60.7" fill="none" stroke="#CCEBC5" stroke-width="1.25" stroke-opacity="0.95"/><path d="M547.4 130.7L572.0 114.4L596.6 90.0L621.1 77.0L645.7 69.5L670.2 56.0" fill="none" stroke="#CCEBC5" stroke-width="1.25" stroke-opacity="0.95"/><path d="M547.4 147.0L572.0 133.8L596.6 119.7L621.1 115.2L645.7 102.5L670.2 101.0" fill="none" stroke="#DECBE4" stroke-width="1.25" stroke-opacity="0.95"/><path d="M547.4 157.6L572.0 136.5L596.6 128.0L621.1 120.8L645.7 117.2L670.2 110.1" fill="none" stroke="#DECBE4" stroke-width="1.25" stroke-opacity="0.95"/><path d="M498.3 160.2L522.9 160.2L547.4 158.4L572.0 141.0L596.6 131.8L621.1 121.7L645.7 120.0L670.2 114.9" fill="none" stroke="#DECBE4" stroke-width="1.25" stroke-opacity="0.95"/><path d="M547.4 134.0L572.0 126.9L596.6 108.0L621.1 101.5L645.7 92.9L670.2 89.0" fill="none" stroke="#DECBE4" stroke-width="1.25" stroke-opacity="0.95"/><path d="M547.4 149.7L572.0 134.4L596.6 122.0L621.1 116.8L645.7 106.4L670.2 100.1" fill="none" stroke="#DECBE4" stroke-width="1.25" stroke-opacity="0.95"/><path d="M547.4 142.3L572.0 129.2L596.6 111.4L621.1 100.3L645.7 93.4L670.2 88.7" fill="none" stroke="#DECBE4" stroke-width="1.25" stroke-opacity="0.95"/><path d="M547.4 146.0L572.0 129.7L596.6 117.9L621.1 106.4L645.7 101.1L670.2 93.5" fill="none" stroke="#DECBE4" stroke-width="1.25" stroke-opacity="0.95"/><path d="M547.4 159.6L572.0 140.7L596.6 133.1L621.1 116.2L645.7 110.5L670.2 104.7" fill="none" stroke="#FED9A6" stroke-width="1.25" stroke-opacity="0.95"/><path d="M547.4 149.1L572.0 129.4L596.6 120.9L621.1 114.4L645.7 97.3L670.2 95.2" fill="none" stroke="#FED9A6" stroke-width="1.25" stroke-opacity="0.95"/><path d="M498.3 146.5L547.4 145.6L572.0 128.7L596.6 122.0L621.1 105.9L645.7 103.1L670.2 90.7" fill="none" stroke="#FED9A6" stroke-width="1.25" stroke-opacity="0.95"/><path d="M547.4 161.5L572.0 137.5L596.6 130.7L621.1 118.9L645.7 111.3L670.2 102.9" fill="none" stroke="#FED9A6" stroke-width="1.25" stroke-opacity="0.95"/><path d="M547.4 150.3L572.0 133.2L596.6 124.1L621.1 111.8L645.7 110.5L670.2 101.5" fill="none" stroke="#FED9A6" stroke-width="1.25" stroke-opacity="0.95"/><path d="M473.8 154.8L547.4 149.0L572.0 136.6L596.6 127.0L621.1 117.5L645.7 106.5L670.2 103.7" fill="none" stroke="#FED9A6" stroke-width="1.25" stroke-opacity="0.95"/><path d="M547.4 134.1L572.0 119.4L596.6 109.0L621.1 100.5L645.7 86.5L670.2 85.9" fill="none" stroke="#FED9A6" stroke-width="1.25" stroke-opacity="0.95"/><path d="M498.3 155.9L547.4 158.3L572.0 133.6L596.6 130.7L621.1 113.0L645.7 104.9L670.2 107.0" fill="none" stroke="#FED9A6" stroke-width="1.25" stroke-opacity="0.95"/><path d="M547.4 128.0L572.0 118.6L596.6 100.0L621.1 93.1L645.7 80.0L670.2 74.0" fill="none" stroke="#FED9A6" stroke-width="1.25" stroke-opacity="0.95"/><path d="M547.4 143.6L572.0 121.9L596.6 108.0L621.1 100.2L645.7 88.2L670.2 85.4" fill="none" stroke="#FED9A6" stroke-width="1.25" stroke-opacity="0.95"/><path d="M449.2 154.1L473.8 160.8L547.4 132.2L572.0 117.6L596.6 101.2L621.1 95.3L645.7 86.4L670.2 74.0" fill="none" stroke="#FED9A6" stroke-width="1.25" stroke-opacity="0.95"/><path d="M547.4 130.3L572.0 118.7L596.6 106.3L621.1 94.2L645.7 86.7L670.2 84.6" fill="none" stroke="#FED9A6" stroke-width="1.25" stroke-opacity="0.95"/><path d="M547.4 148.1L572.0 130.6L596.6 121.0L621.1 105.6L645.7 97.4L670.2 91.0" fill="none" stroke="#FED9A6" stroke-width="1.25" stroke-opacity="0.95"/><path d="M547.4 141.5L572.0 125.8L596.6 110.2L621.1 105.5L645.7 95.7L670.2 82.7" fill="none" stroke="#FED9A6" stroke-width="1.25" stroke-opacity="0.95"/><path d="M547.4 138.2L572.0 122.0L596.6 112.3L621.1 102.9L645.7 99.1L670.2 94.9" fill="none" stroke="#FED9A6" stroke-width="1.25" stroke-opacity="0.95"/><path d="M498.3 144.7L547.4 160.2L572.0 142.0L596.6 134.9L621.1 123.5L645.7 115.2L670.2 111.0" fill="none" stroke="#FED9A6" stroke-width="1.25" stroke-opacity="0.95"/><path d="M547.4 136.5L572.0 120.0L596.6 103.9L621.1 98.0L645.7 88.6L670.2 81.8" fill="none" stroke="#FED9A6" stroke-width="1.25" stroke-opacity="0.95"/><path d="M547.4 140.6L572.0 120.8L596.6 106.1L621.1 96.2L645.7 94.3L670.2 85.6" fill="none" stroke="#FED9A6" stroke-width="1.25" stroke-opacity="0.95"/><path d="M547.4 164.0L572.0 142.0L596.6 129.9L621.1 125.0L645.7 116.1L670.2 108.7" fill="none" stroke="#FED9A6" stroke-width="1.25" stroke-opacity="0.95"/><path d="M547.4 151.0L572.0 130.9L596.6 123.2L621.1 115.9L645.7 103.3L670.2 101.4" fill="none" stroke="#FED9A6" stroke-width="1.25" stroke-opacity="0.95"/></g>
<g><circle cx="547.44" cy="129.48" r="1.75" fill="#FBB4AE" stroke="#1f1f1f" stroke-width="1.05"/><circle cx="572.00" cy="113.31" r="1.75" fill="#FBB4AE" stroke="#1f1f1f" stroke-width="1.05"/><circle cx="596.56" cy="98.39" r="1.75" fill="#FBB4AE" stroke="#1f1f1f" stroke-width="1.05"/><circle cx="621.12" cy="83.92" r="1.75" fill="#FBB4AE" stroke="#1f1f1f" stroke-width="1.05"/><circle cx="645.68" cy="72.52" r="1.75" fill="#FBB4AE" stroke="#1f1f1f" stroke-width="1.05"/><circle cx="670.24" cy="72.70" r="1.75" fill="#FBB4AE" stroke="#1f1f1f" stroke-width="1.05"/><circle cx="547.44" cy="134.17" r="1.75" fill="#FBB4AE" stroke="#1f1f1f" stroke-width="1.05"/><circle cx="572.00" cy="122.17" r="1.75" fill="#FBB4AE" stroke="#1f1f1f" stroke-width="1.05"/><circle cx="596.56" cy="110.60" r="1.75" fill="#FBB4AE" stroke="#1f1f1f" stroke-width="1.05"/><circle cx="621.12" cy="105.59" r="1.75" fill="#FBB4AE" stroke="#1f1f1f" stroke-width="1.05"/><circle cx="645.68" cy="98.09" r="1.75" fill="#FBB4AE" stroke="#1f1f1f" stroke-width="1.05"/><circle cx="670.24" cy="98.29" r="1.75" fill="#FBB4AE" stroke="#1f1f1f" stroke-width="1.05"/><circle cx="326.40" cy="147.08" r="1.75" fill="#FBB4AE" stroke="#1f1f1f" stroke-width="1.05"/><circle cx="350.96" cy="138.01" r="1.75" fill="#FBB4AE" stroke="#1f1f1f" stroke-width="1.05"/><circle cx="375.52" cy="141.13" r="1.75" fill="#FBB4AE" stroke="#1f1f1f" stroke-width="1.05"/><circle cx="400.08" cy="140.18" r="1.75" fill="#FBB4AE" stroke="#1f1f1f" stroke-width="1.05"/><circle cx="498.32" cy="136.09" r="1.75" fill="#FBB4AE" stroke="#1f1f1f" stroke-width="1.05"/><circle cx="547.44" cy="139.61" r="1.75" fill="#FBB4AE" stroke="#1f1f1f" stroke-width="1.05"/><circle cx="572.00" cy="128.57" r="1.75" fill="#FBB4AE" stroke="#1f1f1f" stroke-width="1.05"/><circle cx="596.56" cy="124.36" r="1.75" fill="#FBB4AE" stroke="#1f1f1f" stroke-width="1.05"/><circle cx="621.12" cy="113.25" r="1.75" fill="#FBB4AE" stroke="#1f1f1f" stroke-width="1.05"/><circle cx="645.68" cy="104.88" r="1.75" fill="#FBB4AE" stroke="#1f1f1f" stroke-width="1.05"/><circle cx="670.24" cy="106.00" r="1.75" fill="#FBB4AE" stroke="#1f1f1f" stroke-width="1.05"/><circle cx="547.44" cy="129.60" r="1.75" fill="#FBB4AE" stroke="#1f1f1f" stroke-width="1.05"/><circle cx="572.00" cy="114.60" r="1.75" fill="#FBB4AE" stroke="#1f1f1f" stroke-width="1.05"/><circle cx="596.56" cy="96.92" r="1.75" fill="#FBB4AE" stroke="#1f1f1f" stroke-width="1.05"/><circle cx="621.12" cy="86.20" r="1.75" fill="#FBB4AE" stroke="#1f1f1f" stroke-width="1.05"/><circle cx="645.68" cy="77.37" r="1.75" fill="#FBB4AE" stroke="#1f1f1f" stroke-width="1.05"/><circle cx="670.24" cy="69.02" r="1.75" fill="#FBB4AE" stroke="#1f1f1f" stroke-width="1.05"/><circle cx="498.32" cy="139.96" r="1.75" fill="#FBB4AE" stroke="#1f1f1f" stroke-width="1.05"/><circle cx="522.88" cy="136.51" r="1.75" fill="#FBB4AE" stroke="#1f1f1f" stroke-width="1.05"/><circle cx="547.44" cy="116.30" r="1.75" fill="#FBB4AE" stroke="#1f1f1f" stroke-width="1.05"/><circle cx="572.00" cy="111.66" r="1.75" fill="#FBB4AE" stroke="#1f1f1f" stroke-width="1.05"/><circle cx="596.56" cy="92.00" r="1.75" fill="#FBB4AE" stroke="#1f1f1f" stroke-width="1.05"/><circle cx="621.12" cy="87.44" r="1.75" fill="#FBB4AE" stroke="#1f1f1f" stroke-width="1.05"/><circle cx="645.68" cy="76.82" r="1.75" fill="#FBB4AE" stroke="#1f1f1f" stroke-width="1.05"/><circle cx="670.24" cy="66.00" r="1.75" fill="#FBB4AE" stroke="#1f1f1f" stroke-width="1.05"/><circle cx="498.32" cy="134.41" r="1.75" fill="#FBB4AE" stroke="#1f1f1f" stroke-width="1.05"/><circle cx="547.44" cy="136.05" r="1.75" fill="#FBB4AE" stroke="#1f1f1f" stroke-width="1.05"/><circle cx="572.00" cy="121.70" r="1.75" fill="#FBB4AE" stroke="#1f1f1f" stroke-width="1.05"/><circle cx="596.56" cy="117.01" r="1.75" fill="#FBB4AE" stroke="#1f1f1f" stroke-width="1.05"/><circle cx="621.12" cy="101.82" r="1.75" fill="#FBB4AE" stroke="#1f1f1f" stroke-width="1.05"/><circle cx="645.68" cy="90.45" r="1.75" fill="#FBB4AE" stroke="#1f1f1f" stroke-width="1.05"/><circle cx="670.24" cy="92.10" r="1.75" fill="#FBB4AE" stroke="#1f1f1f" stroke-width="1.05"/><circle cx="326.40" cy="140.25" r="1.75" fill="#FBB4AE" stroke="#1f1f1f" stroke-width="1.05"/><circle cx="350.96" cy="151.72" r="1.75" fill="#FBB4AE" stroke="#1f1f1f" stroke-width="1.05"/><circle cx="375.52" cy="149.77" r="1.75" fill="#FBB4AE" stroke="#1f1f1f" stroke-width="1.05"/><circle cx="400.08" cy="147.81" r="1.75" fill="#FBB4AE" stroke="#1f1f1f" stroke-width="1.05"/><circle cx="473.76" cy="135.40" r="1.75" fill="#FBB4AE" stroke="#1f1f1f" stroke-width="1.05"/><circle cx="547.44" cy="131.80" r="1.75" fill="#FBB4AE" stroke="#1f1f1f" stroke-width="1.05"/><circle cx="572.00" cy="117.38" r="1.75" fill="#FBB4AE" stroke="#1f1f1f" stroke-width="1.05"/><circle cx="596.56" cy="107.59" r="1.75" fill="#FBB4AE" stroke="#1f1f1f" stroke-width="1.05"/><circle cx="621.12" cy="104.51" r="1.75" fill="#FBB4AE" stroke="#1f1f1f" stroke-width="1.05"/><circle cx="645.68" cy="94.81" r="1.75" fill="#FBB4AE" stroke="#1f1f1f" stroke-width="1.05"/><circle cx="670.24" cy="82.32" r="1.75" fill="#FBB4AE" stroke="#1f1f1f" stroke-width="1.05"/><circle cx="326.40" cy="143.89" r="1.75" fill="#FBB4AE" stroke="#1f1f1f" stroke-width="1.05"/><circle cx="350.96" cy="154.77" r="1.75" fill="#FBB4AE" stroke="#1f1f1f" stroke-width="1.05"/><circle cx="375.52" cy="147.09" r="1.75" fill="#FBB4AE" stroke="#1f1f1f" stroke-width="1.05"/><circle cx="400.08" cy="145.17" r="1.75" fill="#FBB4AE" stroke="#1f1f1f" stroke-width="1.05"/><circle cx="473.76" cy="133.15" r="1.75" fill="#FBB4AE" stroke="#1f1f1f" stroke-width="1.05"/><circle cx="522.88" cy="138.90" r="1.75" fill="#FBB4AE" stroke="#1f1f1f" stroke-width="1.05"/><circle cx="547.44" cy="135.82" r="1.75" fill="#FBB4AE" stroke="#1f1f1f" stroke-width="1.05"/><circle cx="572.00" cy="123.89" r="1.75" fill="#FBB4AE" stroke="#1f1f1f" stroke-width="1.05"/><circle cx="596.56" cy="122.69" r="1.75" fill="#FBB4AE" stroke="#1f1f1f" stroke-width="1.05"/><circle cx="621.12" cy="107.30" r="1.75" fill="#FBB4AE" stroke="#1f1f1f" stroke-width="1.05"/><circle cx="645.68" cy="104.63" r="1.75" fill="#FBB4AE" stroke="#1f1f1f" stroke-width="1.05"/><circle cx="670.24" cy="99.01" r="1.75" fill="#FBB4AE" stroke="#1f1f1f" stroke-width="1.05"/><circle cx="350.96" cy="156.83" r="1.75" fill="#FBB4AE" stroke="#1f1f1f" stroke-width="1.05"/><circle cx="375.52" cy="153.81" r="1.75" fill="#FBB4AE" stroke="#1f1f1f" stroke-width="1.05"/><circle cx="400.08" cy="154.87" r="1.75" fill="#FBB4AE" stroke="#1f1f1f" stroke-width="1.05"/><circle cx="449.20" cy="130.58" r="1.75" fill="#FBB4AE" stroke="#1f1f1f" stroke-width="1.05"/><circle cx="498.32" cy="126.40" r="1.75" fill="#FBB4AE" stroke="#1f1f1f" stroke-width="1.05"/><circle cx="522.88" cy="126.80" r="1.75" fill="#FBB4AE" stroke="#1f1f1f" stroke-width="1.05"/><circle cx="547.44" cy="118.90" r="1.75" fill="#FBB4AE" stroke="#1f1f1f" stroke-width="1.05"/><circle cx="572.00" cy="109.00" r="1.75" fill="#FBB4AE" stroke="#1f1f1f" stroke-width="1.05"/><circle cx="596.56" cy="95.67" r="1.75" fill="#FBB4AE" stroke="#1f1f1f" stroke-width="1.05"/><circle cx="621.12" cy="82.00" r="1.75" fill="#FBB4AE" stroke="#1f1f1f" stroke-width="1.05"/><circle cx="645.68" cy="73.69" r="1.75" fill="#FBB4AE" stroke="#1f1f1f" stroke-width="1.05"/><circle cx="670.24" cy="66.00" r="1.75" fill="#FBB4AE" stroke="#1f1f1f" stroke-width="1.05"/><circle cx="326.40" cy="145.33" r="1.75" fill="#FBB4AE" stroke="#1f1f1f" stroke-width="1.05"/><circle cx="350.96" cy="139.34" r="1.75" fill="#FBB4AE" stroke="#1f1f1f" stroke-width="1.05"/><circle cx="375.52" cy="152.13" r="1.75" fill="#FBB4AE" stroke="#1f1f1f" stroke-width="1.05"/><circle cx="400.08" cy="152.06" r="1.75" fill="#FBB4AE" stroke="#1f1f1f" stroke-width="1.05"/><circle cx="498.32" cy="124.92" r="1.75" fill="#FBB4AE" stroke="#1f1f1f" stroke-width="1.05"/><circle cx="547.44" cy="128.82" r="1.75" fill="#FBB4AE" stroke="#1f1f1f" stroke-width="1.05"/><circle cx="572.00" cy="113.30" r="1.75" fill="#FBB4AE" stroke="#1f1f1f" stroke-width="1.05"/><circle cx="596.56" cy="93.81" r="1.75" fill="#FBB4AE" stroke="#1f1f1f" stroke-width="1.05"/><circle cx="621.12" cy="89.79" r="1.75" fill="#FBB4AE" stroke="#1f1f1f" stroke-width="1.05"/><circle cx="645.68" cy="73.02" r="1.75" fill="#FBB4AE" stroke="#1f1f1f" stroke-width="1.05"/><circle cx="670.24" cy="69.28" r="1.75" fill="#FBB4AE" stroke="#1f1f1f" stroke-width="1.05"/><circle cx="326.40" cy="136.45" r="1.75" fill="#FBB4AE" stroke="#1f1f1f" stroke-width="1.05"/><circle cx="350.96" cy="149.95" r="1.75" fill="#FBB4AE" stroke="#1f1f1f" stroke-width="1.05"/><circle cx="375.52" cy="138.79" r="1.75" fill="#FBB4AE" stroke="#1f1f1f" stroke-width="1.05"/><circle cx="400.08" cy="142.14" r="1.75" fill="#FBB4AE" stroke="#1f1f1f" stroke-width="1.05"/><circle cx="522.88" cy="140.92" r="1.75" fill="#FBB4AE" stroke="#1f1f1f" stroke-width="1.05"/><circle cx="547.44" cy="132.12" r="1.75" fill="#FBB4AE" stroke="#1f1f1f" stroke-width="1.05"/><circle cx="572.00" cy="115.55" r="1.75" fill="#FBB4AE" stroke="#1f1f1f" stroke-width="1.05"/><circle cx="596.56" cy="111.09" r="1.75" fill="#FBB4AE" stroke="#1f1f1f" stroke-width="1.05"/><circle cx="621.12" cy="93.76" r="1.75" fill="#FBB4AE" stroke="#1f1f1f" stroke-width="1.05"/><circle cx="645.68" cy="85.65" r="1.75" fill="#FBB4AE" stroke="#1f1f1f" stroke-width="1.05"/><circle cx="670.24" cy="86.55" r="1.75" fill="#FBB4AE" stroke="#1f1f1f" stroke-width="1.05"/><circle cx="547.44" cy="131.24" r="1.75" fill="#FBB4AE" stroke="#1f1f1f" stroke-width="1.05"/><circle cx="572.00" cy="116.34" r="1.75" fill="#FBB4AE" stroke="#1f1f1f" stroke-width="1.05"/><circle cx="596.56" cy="103.69" r="1.75" fill="#FBB4AE" stroke="#1f1f1f" stroke-width="1.05"/><circle cx="621.12" cy="99.07" r="1.75" fill="#FBB4AE" stroke="#1f1f1f" stroke-width="1.05"/><circle cx="645.68" cy="87.21" r="1.75" fill="#FBB4AE" stroke="#1f1f1f" stroke-width="1.05"/><circle cx="670.24" cy="86.31" r="1.75" fill="#FBB4AE" stroke="#1f1f1f" stroke-width="1.05"/><circle cx="326.40" cy="158.65" r="1.75" fill="#FBB4AE" stroke="#1f1f1f" stroke-width="1.05"/><circle cx="350.96" cy="167.89" r="1.75" fill="#FBB4AE" stroke="#1f1f1f" stroke-width="1.05"/><circle cx="375.52" cy="166.33" r="1.75" fill="#FBB4AE" stroke="#1f1f1f" stroke-width="1.05"/><circle cx="547.44" cy="129.90" r="1.75" fill="#FBB4AE" stroke="#1f1f1f" stroke-width="1.05"/><circle cx="572.00" cy="119.05" r="1.75" fill="#FBB4AE" stroke="#1f1f1f" stroke-width="1.05"/><circle cx="596.56" cy="103.09" r="1.75" fill="#FBB4AE" stroke="#1f1f1f" stroke-width="1.05"/><circle cx="621.12" cy="94.35" r="1.75" fill="#FBB4AE" stroke="#1f1f1f" stroke-width="1.05"/><circle cx="645.68" cy="89.13" r="1.75" fill="#FBB4AE" stroke="#1f1f1f" stroke-width="1.05"/><circle cx="670.24" cy="75.83" r="1.75" fill="#FBB4AE" stroke="#1f1f1f" stroke-width="1.05"/><circle cx="326.40" cy="137.68" r="1.75" fill="#FBB4AE" stroke="#1f1f1f" stroke-width="1.05"/><circle cx="350.96" cy="141.20" r="1.75" fill="#FBB4AE" stroke="#1f1f1f" stroke-width="1.05"/><circle cx="375.52" cy="135.23" r="1.75" fill="#FBB4AE" stroke="#1f1f1f" stroke-width="1.05"/><circle cx="400.08" cy="137.27" r="1.75" fill="#FBB4AE" stroke="#1f1f1f" stroke-width="1.05"/><circle cx="498.32" cy="138.34" r="1.75" fill="#FBB4AE" stroke="#1f1f1f" stroke-width="1.05"/><circle cx="547.44" cy="132.63" r="1.75" fill="#FBB4AE" stroke="#1f1f1f" stroke-width="1.05"/><circle cx="572.00" cy="119.12" r="1.75" fill="#FBB4AE" stroke="#1f1f1f" stroke-width="1.05"/><circle cx="596.56" cy="102.27" r="1.75" fill="#FBB4AE" stroke="#1f1f1f" stroke-width="1.05"/><circle cx="621.12" cy="91.97" r="1.75" fill="#FBB4AE" stroke="#1f1f1f" stroke-width="1.05"/><circle cx="645.68" cy="89.41" r="1.75" fill="#FBB4AE" stroke="#1f1f1f" stroke-width="1.05"/><circle cx="670.24" cy="86.74" r="1.75" fill="#FBB4AE" stroke="#1f1f1f" stroke-width="1.05"/><circle cx="350.96" cy="145.86" r="1.75" fill="#FBB4AE" stroke="#1f1f1f" stroke-width="1.05"/><circle cx="400.08" cy="150.73" r="1.75" fill="#FBB4AE" stroke="#1f1f1f" stroke-width="1.05"/><circle cx="449.20" cy="131.99" r="1.75" fill="#FBB4AE" stroke="#1f1f1f" stroke-width="1.05"/><circle cx="498.32" cy="128.18" r="1.75" fill="#FBB4AE" stroke="#1f1f1f" stroke-width="1.05"/><circle cx="547.44" cy="135.55" r="1.75" fill="#FBB4AE" stroke="#1f1f1f" stroke-width="1.05"/><circle cx="572.00" cy="123.34" r="1.75" fill="#FBB4AE" stroke="#1f1f1f" stroke-width="1.05"/><circle cx="596.56" cy="111.77" r="1.75" fill="#FBB4AE" stroke="#1f1f1f" stroke-width="1.05"/><circle cx="621.12" cy="100.52" r="1.75" fill="#FBB4AE" stroke="#1f1f1f" stroke-width="1.05"/><circle cx="645.68" cy="89.07" r="1.75" fill="#FBB4AE" stroke="#1f1f1f" stroke-width="1.05"/><circle cx="670.24" cy="83.19" r="1.75" fill="#FBB4AE" stroke="#1f1f1f" stroke-width="1.05"/><circle cx="350.96" cy="159.80" r="1.75" fill="#FBB4AE" stroke="#1f1f1f" stroke-width="1.05"/><circle cx="522.88" cy="134.23" r="1.75" fill="#FBB4AE" stroke="#1f1f1f" stroke-width="1.05"/><circle cx="547.44" cy="127.57" r="1.75" fill="#FBB4AE" stroke="#1f1f1f" stroke-width="1.05"/><circle cx="572.00" cy="115.54" r="1.75" fill="#FBB4AE" stroke="#1f1f1f" stroke-width="1.05"/><circle cx="596.56" cy="97.84" r="1.75" fill="#FBB4AE" stroke="#1f1f1f" stroke-width="1.05"/><circle cx="621.12" cy="93.80" r="1.75" fill="#FBB4AE" stroke="#1f1f1f" stroke-width="1.05"/><circle cx="645.68" cy="82.60" r="1.75" fill="#FBB4AE" stroke="#1f1f1f" stroke-width="1.05"/><circle cx="670.24" cy="73.52" r="1.75" fill="#FBB4AE" stroke="#1f1f1f" stroke-width="1.05"/><circle cx="326.40" cy="138.81" r="1.75" fill="#FBB4AE" stroke="#1f1f1f" stroke-width="1.05"/><circle cx="350.96" cy="146.74" r="1.75" fill="#FBB4AE" stroke="#1f1f1f" stroke-width="1.05"/><circle cx="375.52" cy="144.98" r="1.75" fill="#FBB4AE" stroke="#1f1f1f" stroke-width="1.05"/><circle cx="400.08" cy="149.05" r="1.75" fill="#FBB4AE" stroke="#1f1f1f" stroke-width="1.05"/><circle cx="547.44" cy="130.42" r="1.75" fill="#FBB4AE" stroke="#1f1f1f" stroke-width="1.05"/><circle cx="572.00" cy="112.49" r="1.75" fill="#FBB4AE" stroke="#1f1f1f" stroke-width="1.05"/><circle cx="596.56" cy="99.06" r="1.75" fill="#FBB4AE" stroke="#1f1f1f" stroke-width="1.05"/><circle cx="621.12" cy="92.65" r="1.75" fill="#FBB4AE" stroke="#1f1f1f" stroke-width="1.05"/><circle cx="645.68" cy="87.24" r="1.75" fill="#FBB4AE" stroke="#1f1f1f" stroke-width="1.05"/><circle cx="670.24" cy="79.19" r="1.75" fill="#FBB4AE" stroke="#1f1f1f" stroke-width="1.05"/><circle cx="350.96" cy="143.19" r="1.75" fill="#FBB4AE" stroke="#1f1f1f" stroke-width="1.05"/><circle cx="375.52" cy="147.99" r="1.75" fill="#FBB4AE" stroke="#1f1f1f" stroke-width="1.05"/><circle cx="498.32" cy="131.94" r="1.75" fill="#FBB4AE" stroke="#1f1f1f" stroke-width="1.05"/><circle cx="547.44" cy="138.13" r="1.75" fill="#FBB4AE" stroke="#1f1f1f" stroke-width="1.05"/><circle cx="572.00" cy="122.89" r="1.75" fill="#FBB4AE" stroke="#1f1f1f" stroke-width="1.05"/><circle cx="596.56" cy="111.96" r="1.75" fill="#FBB4AE" stroke="#1f1f1f" stroke-width="1.05"/><circle cx="621.12" cy="105.15" r="1.75" fill="#FBB4AE" stroke="#1f1f1f" stroke-width="1.05"/><circle cx="645.68" cy="99.88" r="1.75" fill="#FBB4AE" stroke="#1f1f1f" stroke-width="1.05"/><circle cx="670.24" cy="90.73" r="1.75" fill="#FBB4AE" stroke="#1f1f1f" stroke-width="1.05"/><circle cx="326.40" cy="142.45" r="1.75" fill="#FBB4AE" stroke="#1f1f1f" stroke-width="1.05"/><circle cx="350.96" cy="132.50" r="1.75" fill="#FBB4AE" stroke="#1f1f1f" stroke-width="1.05"/><circle cx="375.52" cy="138.10" r="1.75" fill="#FBB4AE" stroke="#1f1f1f" stroke-width="1.05"/><circle cx="400.08" cy="139.21" r="1.75" fill="#FBB4AE" stroke="#1f1f1f" stroke-width="1.05"/><circle cx="498.32" cy="130.75" r="1.75" fill="#FBB4AE" stroke="#1f1f1f" stroke-width="1.05"/><circle cx="547.44" cy="137.70" r="1.75" fill="#FBB4AE" stroke="#1f1f1f" stroke-width="1.05"/><circle cx="572.00" cy="128.07" r="1.75" fill="#FBB4AE" stroke="#1f1f1f" stroke-width="1.05"/><circle cx="596.56" cy="117.60" r="1.75" fill="#FBB4AE" stroke="#1f1f1f" stroke-width="1.05"/><circle cx="621.12" cy="110.73" r="1.75" fill="#FBB4AE" stroke="#1f1f1f" stroke-width="1.05"/><circle cx="645.68" cy="110.00" r="1.75" fill="#FBB4AE" stroke="#1f1f1f" stroke-width="1.05"/><circle cx="670.24" cy="106.00" r="1.75" fill="#FBB4AE" stroke="#1f1f1f" stroke-width="1.05"/><circle cx="326.40" cy="130.92" r="1.75" fill="#FBB4AE" stroke="#1f1f1f" stroke-width="1.05"/><circle cx="350.96" cy="133.13" r="1.75" fill="#FBB4AE" stroke="#1f1f1f" stroke-width="1.05"/><circle cx="375.52" cy="136.12" r="1.75" fill="#FBB4AE" stroke="#1f1f1f" stroke-width="1.05"/><circle cx="400.08" cy="136.25" r="1.75" fill="#FBB4AE" stroke="#1f1f1f" stroke-width="1.05"/><circle cx="473.76" cy="137.57" r="1.75" fill="#FBB4AE" stroke="#1f1f1f" stroke-width="1.05"/><circle cx="522.88" cy="129.68" r="1.75" fill="#FBB4AE" stroke="#1f1f1f" stroke-width="1.05"/><circle cx="547.44" cy="140.00" r="1.75" fill="#FBB4AE" stroke="#1f1f1f" stroke-width="1.05"/><circle cx="572.00" cy="130.00" r="1.75" fill="#FBB4AE" stroke="#1f1f1f" stroke-width="1.05"/><circle cx="596.56" cy="120.69" r="1.75" fill="#FBB4AE" stroke="#1f1f1f" stroke-width="1.05"/><circle cx="621.12" cy="110.49" r="1.75" fill="#FBB4AE" stroke="#1f1f1f" stroke-width="1.05"/><circle cx="645.68" cy="103.64" r="1.75" fill="#FBB4AE" stroke="#1f1f1f" stroke-width="1.05"/><circle cx="670.24" cy="106.00" r="1.75" fill="#FBB4AE" stroke="#1f1f1f" stroke-width="1.05"/><circle cx="326.40" cy="148.95" r="1.75" fill="#FBB4AE" stroke="#1f1f1f" stroke-width="1.05"/><circle cx="350.96" cy="143.88" r="1.75" fill="#FBB4AE" stroke="#1f1f1f" stroke-width="1.05"/><circle cx="375.52" cy="142.28" r="1.75" fill="#FBB4AE" stroke="#1f1f1f" stroke-width="1.05"/><circle cx="400.08" cy="145.74" r="1.75" fill="#FBB4AE" stroke="#1f1f1f" stroke-width="1.05"/><circle cx="498.32" cy="141.73" r="1.75" fill="#FBB4AE" stroke="#1f1f1f" stroke-width="1.05"/><circle cx="547.44" cy="139.01" r="1.75" fill="#FBB4AE" stroke="#1f1f1f" stroke-width="1.05"/><circle cx="572.00" cy="122.69" r="1.75" fill="#FBB4AE" stroke="#1f1f1f" stroke-width="1.05"/><circle cx="596.56" cy="119.60" r="1.75" fill="#FBB4AE" stroke="#1f1f1f" stroke-width="1.05"/><circle cx="621.12" cy="108.86" r="1.75" fill="#FBB4AE" stroke="#1f1f1f" stroke-width="1.05"/><circle cx="645.68" cy="104.85" r="1.75" fill="#FBB4AE" stroke="#1f1f1f" stroke-width="1.05"/><circle cx="670.24" cy="95.65" r="1.75" fill="#FBB4AE" stroke="#1f1f1f" stroke-width="1.05"/><circle cx="326.40" cy="141.79" r="1.75" fill="#FBB4AE" stroke="#1f1f1f" stroke-width="1.05"/><circle cx="350.96" cy="134.93" r="1.75" fill="#FBB4AE" stroke="#1f1f1f" stroke-width="1.05"/><circle cx="375.52" cy="143.80" r="1.75" fill="#FBB4AE" stroke="#1f1f1f" stroke-width="1.05"/><circle cx="400.08" cy="142.82" r="1.75" fill="#FBB4AE" stroke="#1f1f1f" stroke-width="1.05"/><circle cx="547.44" cy="132.98" r="1.75" fill="#FBB4AE" stroke="#1f1f1f" stroke-width="1.05"/><circle cx="572.00" cy="123.13" r="1.75" fill="#FBB4AE" stroke="#1f1f1f" stroke-width="1.05"/><circle cx="596.56" cy="116.10" r="1.75" fill="#FBB4AE" stroke="#1f1f1f" stroke-width="1.05"/><circle cx="621.12" cy="108.49" r="1.75" fill="#FBB4AE" stroke="#1f1f1f" stroke-width="1.05"/><circle cx="645.68" cy="99.75" r="1.75" fill="#FBB4AE" stroke="#1f1f1f" stroke-width="1.05"/><circle cx="670.24" cy="94.81" r="1.75" fill="#FBB4AE" stroke="#1f1f1f" stroke-width="1.05"/><circle cx="449.20" cy="138.45" r="1.75" fill="#FBB4AE" stroke="#1f1f1f" stroke-width="1.05"/><circle cx="522.88" cy="131.31" r="1.75" fill="#FBB4AE" stroke="#1f1f1f" stroke-width="1.05"/><rect x="545.89" y="163.73" width="3.10" height="3.10" fill="#B3CDE3" stroke="#1f1f1f" stroke-width="1.05"/><rect x="570.45" y="137.02" width="3.10" height="3.10" fill="#B3CDE3" stroke="#1f1f1f" stroke-width="1.05"/><rect x="595.01" y="138.38" width="3.10" height="3.10" fill="#B3CDE3" stroke="#1f1f1f" stroke-width="1.05"/><rect x="619.57" y="130.45" width="3.10" height="3.10" fill="#B3CDE3" stroke="#1f1f1f" stroke-width="1.05"/><rect x="644.13" y="122.45" width="3.10" height="3.10" fill="#B3CDE3" stroke="#1f1f1f" stroke-width="1.05"/><rect x="668.69" y="116.05" width="3.10" height="3.10" fill="#B3CDE3" stroke="#1f1f1f" stroke-width="1.05"/><rect x="496.77" y="136.76" width="3.10" height="3.10" fill="#B3CDE3" stroke="#1f1f1f" stroke-width="1.05"/><rect x="521.33" y="141.21" width="3.10" height="3.10" fill="#B3CDE3" stroke="#1f1f1f" stroke-width="1.05"/><rect x="545.89" y="152.14" width="3.10" height="3.10" fill="#B3CDE3" stroke="#1f1f1f" stroke-width="1.05"/><rect x="570.45" y="132.84" width="3.10" height="3.10" fill="#B3CDE3" stroke="#1f1f1f" stroke-width="1.05"/><rect x="595.01" y="127.54" width="3.10" height="3.10" fill="#B3CDE3" stroke="#1f1f1f" stroke-width="1.05"/><rect x="619.57" y="121.68" width="3.10" height="3.10" fill="#B3CDE3" stroke="#1f1f1f" stroke-width="1.05"/><rect x="644.13" y="109.95" width="3.10" height="3.10" fill="#B3CDE3" stroke="#1f1f1f" stroke-width="1.05"/><rect x="668.69" y="107.95" width="3.10" height="3.10" fill="#B3CDE3" stroke="#1f1f1f" stroke-width="1.05"/><rect x="324.85" y="148.89" width="3.10" height="3.10" fill="#B3CDE3" stroke="#1f1f1f" stroke-width="1.05"/><rect x="349.41" y="170.67" width="3.10" height="3.10" fill="#B3CDE3" stroke="#1f1f1f" stroke-width="1.05"/><rect x="545.89" y="139.95" width="3.10" height="3.10" fill="#B3CDE3" stroke="#1f1f1f" stroke-width="1.05"/><rect x="570.45" y="126.71" width="3.10" height="3.10" fill="#B3CDE3" stroke="#1f1f1f" stroke-width="1.05"/><rect x="595.01" y="117.97" width="3.10" height="3.10" fill="#B3CDE3" stroke="#1f1f1f" stroke-width="1.05"/><rect x="619.57" y="112.99" width="3.10" height="3.10" fill="#B3CDE3" stroke="#1f1f1f" stroke-width="1.05"/><rect x="644.13" y="105.37" width="3.10" height="3.10" fill="#B3CDE3" stroke="#1f1f1f" stroke-width="1.05"/><rect x="668.69" y="100.08" width="3.10" height="3.10" fill="#B3CDE3" stroke="#1f1f1f" stroke-width="1.05"/><rect x="545.89" y="156.80" width="3.10" height="3.10" fill="#B3CDE3" stroke="#1f1f1f" stroke-width="1.05"/><rect x="570.45" y="134.81" width="3.10" height="3.10" fill="#B3CDE3" stroke="#1f1f1f" stroke-width="1.05"/><rect x="595.01" y="133.34" width="3.10" height="3.10" fill="#B3CDE3" stroke="#1f1f1f" stroke-width="1.05"/><rect x="619.57" y="127.10" width="3.10" height="3.10" fill="#B3CDE3" stroke="#1f1f1f" stroke-width="1.05"/><rect x="644.13" y="116.55" width="3.10" height="3.10" fill="#B3CDE3" stroke="#1f1f1f" stroke-width="1.05"/><rect x="668.69" y="110.35" width="3.10" height="3.10" fill="#B3CDE3" stroke="#1f1f1f" stroke-width="1.05"/><rect x="545.89" y="142.32" width="3.10" height="3.10" fill="#B3CDE3" stroke="#1f1f1f" stroke-width="1.05"/><rect x="570.45" y="127.47" width="3.10" height="3.10" fill="#B3CDE3" stroke="#1f1f1f" stroke-width="1.05"/><rect x="595.01" y="123.89" width="3.10" height="3.10" fill="#B3CDE3" stroke="#1f1f1f" stroke-width="1.05"/><rect x="619.57" y="111.84" width="3.10" height="3.10" fill="#B3CDE3" stroke="#1f1f1f" stroke-width="1.05"/><rect x="644.13" y="107.56" width="3.10" height="3.10" fill="#B3CDE3" stroke="#1f1f1f" stroke-width="1.05"/><rect x="668.69" y="98.76" width="3.10" height="3.10" fill="#B3CDE3" stroke="#1f1f1f" stroke-width="1.05"/><rect x="349.41" y="188.60" width="3.10" height="3.10" fill="#B3CDE3" stroke="#1f1f1f" stroke-width="1.05"/><rect x="521.33" y="128.67" width="3.10" height="3.10" fill="#B3CDE3" stroke="#1f1f1f" stroke-width="1.05"/><rect x="545.89" y="147.33" width="3.10" height="3.10" fill="#B3CDE3" stroke="#1f1f1f" stroke-width="1.05"/><rect x="570.45" y="131.61" width="3.10" height="3.10" fill="#B3CDE3" stroke="#1f1f1f" stroke-width="1.05"/><rect x="595.01" y="126.52" width="3.10" height="3.10" fill="#B3CDE3" stroke="#1f1f1f" stroke-width="1.05"/><rect x="619.57" y="114.80" width="3.10" height="3.10" fill="#B3CDE3" stroke="#1f1f1f" stroke-width="1.05"/><rect x="644.13" y="109.42" width="3.10" height="3.10" fill="#B3CDE3" stroke="#1f1f1f" stroke-width="1.05"/><rect x="668.69" y="101.82" width="3.10" height="3.10" fill="#B3CDE3" stroke="#1f1f1f" stroke-width="1.05"/><rect x="324.85" y="154.67" width="3.10" height="3.10" fill="#B3CDE3" stroke="#1f1f1f" stroke-width="1.05"/><rect x="349.41" y="181.40" width="3.10" height="3.10" fill="#B3CDE3" stroke="#1f1f1f" stroke-width="1.05"/><rect x="545.89" y="142.62" width="3.10" height="3.10" fill="#B3CDE3" stroke="#1f1f1f" stroke-width="1.05"/><rect x="570.45" y="130.30" width="3.10" height="3.10" fill="#B3CDE3" stroke="#1f1f1f" stroke-width="1.05"/><rect x="595.01" y="124.94" width="3.10" height="3.10" fill="#B3CDE3" stroke="#1f1f1f" stroke-width="1.05"/><rect x="619.57" y="115.67" width="3.10" height="3.10" fill="#B3CDE3" stroke="#1f1f1f" stroke-width="1.05"/><rect x="644.13" y="110.44" width="3.10" height="3.10" fill="#B3CDE3" stroke="#1f1f1f" stroke-width="1.05"/><rect x="668.69" y="100.40" width="3.10" height="3.10" fill="#B3CDE3" stroke="#1f1f1f" stroke-width="1.05"/><rect x="496.77" y="131.15" width="3.10" height="3.10" fill="#B3CDE3" stroke="#1f1f1f" stroke-width="1.05"/><rect x="521.33" y="132.67" width="3.10" height="3.10" fill="#B3CDE3" stroke="#1f1f1f" stroke-width="1.05"/><rect x="545.89" y="151.31" width="3.10" height="3.10" fill="#B3CDE3" stroke="#1f1f1f" stroke-width="1.05"/><rect x="570.45" y="132.31" width="3.10" height="3.10" fill="#B3CDE3" stroke="#1f1f1f" stroke-width="1.05"/><rect x="595.01" y="127.33" width="3.10" height="3.10" fill="#B3CDE3" stroke="#1f1f1f" stroke-width="1.05"/><rect x="619.57" y="120.18" width="3.10" height="3.10" fill="#B3CDE3" stroke="#1f1f1f" stroke-width="1.05"/><rect x="644.13" y="114.38" width="3.10" height="3.10" fill="#B3CDE3" stroke="#1f1f1f" stroke-width="1.05"/><rect x="668.69" y="107.59" width="3.10" height="3.10" fill="#B3CDE3" stroke="#1f1f1f" stroke-width="1.05"/><rect x="521.33" y="136.75" width="3.10" height="3.10" fill="#B3CDE3" stroke="#1f1f1f" stroke-width="1.05"/><rect x="545.89" y="160.40" width="3.10" height="3.10" fill="#B3CDE3" stroke="#1f1f1f" stroke-width="1.05"/><rect x="570.45" y="138.53" width="3.10" height="3.10" fill="#B3CDE3" stroke="#1f1f1f" stroke-width="1.05"/><rect x="595.01" y="133.03" width="3.10" height="3.10" fill="#B3CDE3" stroke="#1f1f1f" stroke-width="1.05"/><rect x="619.57" y="121.82" width="3.10" height="3.10" fill="#B3CDE3" stroke="#1f1f1f" stroke-width="1.05"/><rect x="644.13" y="114.34" width="3.10" height="3.10" fill="#B3CDE3" stroke="#1f1f1f" stroke-width="1.05"/><rect x="668.69" y="113.39" width="3.10" height="3.10" fill="#B3CDE3" stroke="#1f1f1f" stroke-width="1.05"/><rect x="324.85" y="163.69" width="3.10" height="3.10" fill="#B3CDE3" stroke="#1f1f1f" stroke-width="1.05"/><rect x="349.41" y="184.64" width="3.10" height="3.10" fill="#B3CDE3" stroke="#1f1f1f" stroke-width="1.05"/><rect x="447.65" y="138.67" width="3.10" height="3.10" fill="#B3CDE3" stroke="#1f1f1f" stroke-width="1.05"/><rect x="545.89" y="137.30" width="3.10" height="3.10" fill="#B3CDE3" stroke="#1f1f1f" stroke-width="1.05"/><rect x="570.45" y="125.26" width="3.10" height="3.10" fill="#B3CDE3" stroke="#1f1f1f" stroke-width="1.05"/><rect x="595.01" y="116.45" width="3.10" height="3.10" fill="#B3CDE3" stroke="#1f1f1f" stroke-width="1.05"/><rect x="619.57" y="111.02" width="3.10" height="3.10" fill="#B3CDE3" stroke="#1f1f1f" stroke-width="1.05"/><rect x="644.13" y="102.45" width="3.10" height="3.10" fill="#B3CDE3" stroke="#1f1f1f" stroke-width="1.05"/><rect x="668.69" y="96.45" width="3.10" height="3.10" fill="#B3CDE3" stroke="#1f1f1f" stroke-width="1.05"/><rect x="324.85" y="151.69" width="3.10" height="3.10" fill="#B3CDE3" stroke="#1f1f1f" stroke-width="1.05"/><rect x="349.41" y="176.42" width="3.10" height="3.10" fill="#B3CDE3" stroke="#1f1f1f" stroke-width="1.05"/><rect x="373.97" y="156.30" width="3.10" height="3.10" fill="#B3CDE3" stroke="#1f1f1f" stroke-width="1.05"/><rect x="398.53" y="164.70" width="3.10" height="3.10" fill="#B3CDE3" stroke="#1f1f1f" stroke-width="1.05"/><rect x="545.89" y="141.88" width="3.10" height="3.10" fill="#B3CDE3" stroke="#1f1f1f" stroke-width="1.05"/><rect x="570.45" y="132.15" width="3.10" height="3.10" fill="#B3CDE3" stroke="#1f1f1f" stroke-width="1.05"/><rect x="595.01" y="123.43" width="3.10" height="3.10" fill="#B3CDE3" stroke="#1f1f1f" stroke-width="1.05"/><rect x="619.57" y="114.49" width="3.10" height="3.10" fill="#B3CDE3" stroke="#1f1f1f" stroke-width="1.05"/><rect x="644.13" y="107.38" width="3.10" height="3.10" fill="#B3CDE3" stroke="#1f1f1f" stroke-width="1.05"/><rect x="668.69" y="104.87" width="3.10" height="3.10" fill="#B3CDE3" stroke="#1f1f1f" stroke-width="1.05"/><rect x="545.89" y="162.10" width="3.10" height="3.10" fill="#B3CDE3" stroke="#1f1f1f" stroke-width="1.05"/><rect x="570.45" y="138.84" width="3.10" height="3.10" fill="#B3CDE3" stroke="#1f1f1f" stroke-width="1.05"/><rect x="595.01" y="138.19" width="3.10" height="3.10" fill="#B3CDE3" stroke="#1f1f1f" stroke-width="1.05"/><rect x="619.57" y="130.24" width="3.10" height="3.10" fill="#B3CDE3" stroke="#1f1f1f" stroke-width="1.05"/><rect x="644.13" y="120.62" width="3.10" height="3.10" fill="#B3CDE3" stroke="#1f1f1f" stroke-width="1.05"/><rect x="668.69" y="111.70" width="3.10" height="3.10" fill="#B3CDE3" stroke="#1f1f1f" stroke-width="1.05"/><rect x="545.89" y="145.14" width="3.10" height="3.10" fill="#B3CDE3" stroke="#1f1f1f" stroke-width="1.05"/><rect x="570.45" y="129.16" width="3.10" height="3.10" fill="#B3CDE3" stroke="#1f1f1f" stroke-width="1.05"/><rect x="595.01" y="126.41" width="3.10" height="3.10" fill="#B3CDE3" stroke="#1f1f1f" stroke-width="1.05"/><rect x="619.57" y="119.57" width="3.10" height="3.10" fill="#B3CDE3" stroke="#1f1f1f" stroke-width="1.05"/><rect x="644.13" y="109.35" width="3.10" height="3.10" fill="#B3CDE3" stroke="#1f1f1f" stroke-width="1.05"/><rect x="668.69" y="103.91" width="3.10" height="3.10" fill="#B3CDE3" stroke="#1f1f1f" stroke-width="1.05"/><rect x="545.89" y="165.45" width="3.10" height="3.10" fill="#B3CDE3" stroke="#1f1f1f" stroke-width="1.05"/><rect x="570.45" y="140.08" width="3.10" height="3.10" fill="#B3CDE3" stroke="#1f1f1f" stroke-width="1.05"/><rect x="595.01" y="139.45" width="3.10" height="3.10" fill="#B3CDE3" stroke="#1f1f1f" stroke-width="1.05"/><rect x="619.57" y="130.45" width="3.10" height="3.10" fill="#B3CDE3" stroke="#1f1f1f" stroke-width="1.05"/><rect x="644.13" y="121.22" width="3.10" height="3.10" fill="#B3CDE3" stroke="#1f1f1f" stroke-width="1.05"/><rect x="668.69" y="116.45" width="3.10" height="3.10" fill="#B3CDE3" stroke="#1f1f1f" stroke-width="1.05"/><rect x="472.21" y="137.73" width="3.10" height="3.10" fill="#B3CDE3" stroke="#1f1f1f" stroke-width="1.05"/><rect x="521.33" y="144.74" width="3.10" height="3.10" fill="#B3CDE3" stroke="#1f1f1f" stroke-width="1.05"/><rect x="545.89" y="134.45" width="3.10" height="3.10" fill="#B3CDE3" stroke="#1f1f1f" stroke-width="1.05"/><rect x="570.45" y="127.94" width="3.10" height="3.10" fill="#B3CDE3" stroke="#1f1f1f" stroke-width="1.05"/><rect x="595.01" y="120.01" width="3.10" height="3.10" fill="#B3CDE3" stroke="#1f1f1f" stroke-width="1.05"/><rect x="619.57" y="108.45" width="3.10" height="3.10" fill="#B3CDE3" stroke="#1f1f1f" stroke-width="1.05"/><rect x="644.13" y="103.94" width="3.10" height="3.10" fill="#B3CDE3" stroke="#1f1f1f" stroke-width="1.05"/><rect x="668.69" y="98.97" width="3.10" height="3.10" fill="#B3CDE3" stroke="#1f1f1f" stroke-width="1.05"/><rect x="349.41" y="166.23" width="3.10" height="3.10" fill="#B3CDE3" stroke="#1f1f1f" stroke-width="1.05"/><rect x="545.89" y="154.27" width="3.10" height="3.10" fill="#B3CDE3" stroke="#1f1f1f" stroke-width="1.05"/><rect x="570.45" y="135.60" width="3.10" height="3.10" fill="#B3CDE3" stroke="#1f1f1f" stroke-width="1.05"/><rect x="595.01" y="134.63" width="3.10" height="3.10" fill="#B3CDE3" stroke="#1f1f1f" stroke-width="1.05"/><rect x="619.57" y="125.29" width="3.10" height="3.10" fill="#B3CDE3" stroke="#1f1f1f" stroke-width="1.05"/><rect x="644.13" y="118.64" width="3.10" height="3.10" fill="#B3CDE3" stroke="#1f1f1f" stroke-width="1.05"/><rect x="668.69" y="109.76" width="3.10" height="3.10" fill="#B3CDE3" stroke="#1f1f1f" stroke-width="1.05"/><rect x="545.89" y="150.85" width="3.10" height="3.10" fill="#B3CDE3" stroke="#1f1f1f" stroke-width="1.05"/><rect x="570.45" y="135.40" width="3.10" height="3.10" fill="#B3CDE3" stroke="#1f1f1f" stroke-width="1.05"/><rect x="595.01" y="132.85" width="3.10" height="3.10" fill="#B3CDE3" stroke="#1f1f1f" stroke-width="1.05"/><rect x="619.57" y="122.97" width="3.10" height="3.10" fill="#B3CDE3" stroke="#1f1f1f" stroke-width="1.05"/><rect x="644.13" y="116.11" width="3.10" height="3.10" fill="#B3CDE3" stroke="#1f1f1f" stroke-width="1.05"/><rect x="668.69" y="107.08" width="3.10" height="3.10" fill="#B3CDE3" stroke="#1f1f1f" stroke-width="1.05"/><rect x="324.85" y="160.81" width="3.10" height="3.10" fill="#B3CDE3" stroke="#1f1f1f" stroke-width="1.05"/><rect x="349.41" y="174.24" width="3.10" height="3.10" fill="#B3CDE3" stroke="#1f1f1f" stroke-width="1.05"/><path d="M547.44 145.60L549.59 147.75L547.44 149.90L545.29 147.75Z" fill="#CCEBC5" stroke="#1f1f1f" stroke-width="1.05" stroke-linejoin="round"/><path d="M572.00 130.77L574.15 132.92L572.00 135.07L569.85 132.92Z" fill="#CCEBC5" stroke="#1f1f1f" stroke-width="1.05" stroke-linejoin="round"/><path d="M596.56 113.09L598.71 115.24L596.56 117.39L594.41 115.24Z" fill="#CCEBC5" stroke="#1f1f1f" stroke-width="1.05" stroke-linejoin="round"/><path d="M621.12 97.09L623.27 99.24L621.12 101.39L618.97 99.24Z" fill="#CCEBC5" stroke="#1f1f1f" stroke-width="1.05" stroke-linejoin="round"/><path d="M645.68 87.56L647.83 89.71L645.68 91.86L643.53 89.71Z" fill="#CCEBC5" stroke="#1f1f1f" stroke-width="1.05" stroke-linejoin="round"/><path d="M670.24 78.57L672.39 80.72L670.24 82.87L668.09 80.72Z" fill="#CCEBC5" stroke="#1f1f1f" stroke-width="1.05" stroke-linejoin="round"/><path d="M449.20 165.47L451.35 167.62L449.20 169.77L447.05 167.62Z" fill="#CCEBC5" stroke="#1f1f1f" stroke-width="1.05" stroke-linejoin="round"/><path d="M498.32 175.36L500.47 177.51L498.32 179.66L496.17 177.51Z" fill="#CCEBC5" stroke="#1f1f1f" stroke-width="1.05" stroke-linejoin="round"/><path d="M547.44 140.15L549.59 142.30L547.44 144.45L545.29 142.30Z" fill="#CCEBC5" stroke="#1f1f1f" stroke-width="1.05" stroke-linejoin="round"/><path d="M572.00 123.01L574.15 125.16L572.00 127.31L569.85 125.16Z" fill="#CCEBC5" stroke="#1f1f1f" stroke-width="1.05" stroke-linejoin="round"/><path d="M596.56 105.84L598.71 107.99L596.56 110.14L594.41 107.99Z" fill="#CCEBC5" stroke="#1f1f1f" stroke-width="1.05" stroke-linejoin="round"/><path d="M621.12 90.25L623.27 92.40L621.12 94.55L618.97 92.40Z" fill="#CCEBC5" stroke="#1f1f1f" stroke-width="1.05" stroke-linejoin="round"/><path d="M645.68 79.44L647.83 81.59L645.68 83.74L643.53 81.59Z" fill="#CCEBC5" stroke="#1f1f1f" stroke-width="1.05" stroke-linejoin="round"/><path d="M670.24 76.05L672.39 78.20L670.24 80.35L668.09 78.20Z" fill="#CCEBC5" stroke="#1f1f1f" stroke-width="1.05" stroke-linejoin="round"/><path d="M547.44 131.14L549.59 133.29L547.44 135.44L545.29 133.29Z" fill="#CCEBC5" stroke="#1f1f1f" stroke-width="1.05" stroke-linejoin="round"/><path d="M572.00 118.01L574.15 120.16L572.00 122.31L569.85 120.16Z" fill="#CCEBC5" stroke="#1f1f1f" stroke-width="1.05" stroke-linejoin="round"/><path d="M596.56 103.24L598.71 105.39L596.56 107.54L594.41 105.39Z" fill="#CCEBC5" stroke="#1f1f1f" stroke-width="1.05" stroke-linejoin="round"/><path d="M621.12 84.28L623.27 86.43L621.12 88.58L618.97 86.43Z" fill="#CCEBC5" stroke="#1f1f1f" stroke-width="1.05" stroke-linejoin="round"/><path d="M645.68 76.02L647.83 78.17L645.68 80.32L643.53 78.17Z" fill="#CCEBC5" stroke="#1f1f1f" stroke-width="1.05" stroke-linejoin="round"/><path d="M670.24 72.66L672.39 74.81L670.24 76.96L668.09 74.81Z" fill="#CCEBC5" stroke="#1f1f1f" stroke-width="1.05" stroke-linejoin="round"/><path d="M547.44 154.28L549.59 156.43L547.44 158.58L545.29 156.43Z" fill="#CCEBC5" stroke="#1f1f1f" stroke-width="1.05" stroke-linejoin="round"/><path d="M572.00 147.25L574.15 149.40L572.00 151.55L569.85 149.40Z" fill="#CCEBC5" stroke="#1f1f1f" stroke-width="1.05" stroke-linejoin="round"/><path d="M596.56 112.18L598.71 114.33L596.56 116.48L594.41 114.33Z" fill="#CCEBC5" stroke="#1f1f1f" stroke-width="1.05" stroke-linejoin="round"/><path d="M621.12 103.94L623.27 106.09L621.12 108.24L618.97 106.09Z" fill="#CCEBC5" stroke="#1f1f1f" stroke-width="1.05" stroke-linejoin="round"/><path d="M645.68 90.45L647.83 92.60L645.68 94.75L643.53 92.60Z" fill="#CCEBC5" stroke="#1f1f1f" stroke-width="1.05" stroke-linejoin="round"/><path d="M670.24 86.81L672.39 88.96L670.24 91.11L668.09 88.96Z" fill="#CCEBC5" stroke="#1f1f1f" stroke-width="1.05" stroke-linejoin="round"/><path d="M350.96 178.15L353.11 180.30L350.96 182.45L348.81 180.30Z" fill="#CCEBC5" stroke="#1f1f1f" stroke-width="1.05" stroke-linejoin="round"/><path d="M547.44 147.09L549.59 149.24L547.44 151.39L545.29 149.24Z" fill="#CCEBC5" stroke="#1f1f1f" stroke-width="1.05" stroke-linejoin="round"/><path d="M572.00 126.56L574.15 128.71L572.00 130.86L569.85 128.71Z" fill="#CCEBC5" stroke="#1f1f1f" stroke-width="1.05" stroke-linejoin="round"/><path d="M596.56 112.81L598.71 114.96L596.56 117.11L594.41 114.96Z" fill="#CCEBC5" stroke="#1f1f1f" stroke-width="1.05" stroke-linejoin="round"/><path d="M621.12 102.18L623.27 104.33L621.12 106.48L618.97 104.33Z" fill="#CCEBC5" stroke="#1f1f1f" stroke-width="1.05" stroke-linejoin="round"/><path d="M645.68 86.01L647.83 88.16L645.68 90.31L643.53 88.16Z" fill="#CCEBC5" stroke="#1f1f1f" stroke-width="1.05" stroke-linejoin="round"/><path d="M670.24 89.64L672.39 91.79L670.24 93.94L668.09 91.79Z" fill="#CCEBC5" stroke="#1f1f1f" stroke-width="1.05" stroke-linejoin="round"/><path d="M547.44 157.85L549.59 160.00L547.44 162.15L545.29 160.00Z" fill="#CCEBC5" stroke="#1f1f1f" stroke-width="1.05" stroke-linejoin="round"/><path d="M572.00 151.35L574.15 153.50L572.00 155.65L569.85 153.50Z" fill="#CCEBC5" stroke="#1f1f1f" stroke-width="1.05" stroke-linejoin="round"/><path d="M596.56 113.39L598.71 115.54L596.56 117.69L594.41 115.54Z" fill="#CCEBC5" stroke="#1f1f1f" stroke-width="1.05" stroke-linejoin="round"/><path d="M621.12 101.92L623.27 104.07L621.12 106.22L618.97 104.07Z" fill="#CCEBC5" stroke="#1f1f1f" stroke-width="1.05" stroke-linejoin="round"/><path d="M645.68 97.85L647.83 100.00L645.68 102.15L643.53 100.00Z" fill="#CCEBC5" stroke="#1f1f1f" stroke-width="1.05" stroke-linejoin="round"/><path d="M670.24 88.35L672.39 90.50L670.24 92.65L668.09 90.50Z" fill="#CCEBC5" stroke="#1f1f1f" stroke-width="1.05" stroke-linejoin="round"/><path d="M473.76 162.47L475.91 164.62L473.76 166.77L471.61 164.62Z" fill="#CCEBC5" stroke="#1f1f1f" stroke-width="1.05" stroke-linejoin="round"/><path d="M498.32 170.83L500.47 172.98L498.32 175.13L496.17 172.98Z" fill="#CCEBC5" stroke="#1f1f1f" stroke-width="1.05" stroke-linejoin="round"/><path d="M547.44 139.48L549.59 141.63L547.44 143.78L545.29 141.63Z" fill="#CCEBC5" stroke="#1f1f1f" stroke-width="1.05" stroke-linejoin="round"/><path d="M572.00 118.23L574.15 120.38L572.00 122.53L569.85 120.38Z" fill="#CCEBC5" stroke="#1f1f1f" stroke-width="1.05" stroke-linejoin="round"/><path d="M596.56 98.20L598.71 100.35L596.56 102.50L594.41 100.35Z" fill="#CCEBC5" stroke="#1f1f1f" stroke-width="1.05" stroke-linejoin="round"/><path d="M621.12 87.96L623.27 90.11L621.12 92.26L618.97 90.11Z" fill="#CCEBC5" stroke="#1f1f1f" stroke-width="1.05" stroke-linejoin="round"/><path d="M645.68 73.85L647.83 76.00L645.68 78.15L643.53 76.00Z" fill="#CCEBC5" stroke="#1f1f1f" stroke-width="1.05" stroke-linejoin="round"/><path d="M670.24 73.60L672.39 75.75L670.24 77.90L668.09 75.75Z" fill="#CCEBC5" stroke="#1f1f1f" stroke-width="1.05" stroke-linejoin="round"/><path d="M547.44 148.74L549.59 150.89L547.44 153.04L545.29 150.89Z" fill="#CCEBC5" stroke="#1f1f1f" stroke-width="1.05" stroke-linejoin="round"/><path d="M572.00 125.45L574.15 127.60L572.00 129.75L569.85 127.60Z" fill="#CCEBC5" stroke="#1f1f1f" stroke-width="1.05" stroke-linejoin="round"/><path d="M596.56 103.96L598.71 106.11L596.56 108.26L594.41 106.11Z" fill="#CCEBC5" stroke="#1f1f1f" stroke-width="1.05" stroke-linejoin="round"/><path d="M621.12 94.55L623.27 96.70L621.12 98.85L618.97 96.70Z" fill="#CCEBC5" stroke="#1f1f1f" stroke-width="1.05" stroke-linejoin="round"/><path d="M645.68 78.60L647.83 80.75L645.68 82.90L643.53 80.75Z" fill="#CCEBC5" stroke="#1f1f1f" stroke-width="1.05" stroke-linejoin="round"/><path d="M670.24 74.71L672.39 76.86L670.24 79.01L668.09 76.86Z" fill="#CCEBC5" stroke="#1f1f1f" stroke-width="1.05" stroke-linejoin="round"/><path d="M326.40 153.62L328.55 155.77L326.40 157.92L324.25 155.77Z" fill="#CCEBC5" stroke="#1f1f1f" stroke-width="1.05" stroke-linejoin="round"/><path d="M350.96 155.81L353.11 157.96L350.96 160.11L348.81 157.96Z" fill="#CCEBC5" stroke="#1f1f1f" stroke-width="1.05" stroke-linejoin="round"/><path d="M473.76 156.04L475.91 158.19L473.76 160.34L471.61 158.19Z" fill="#CCEBC5" stroke="#1f1f1f" stroke-width="1.05" stroke-linejoin="round"/><path d="M547.44 129.18L549.59 131.33L547.44 133.48L545.29 131.33Z" fill="#CCEBC5" stroke="#1f1f1f" stroke-width="1.05" stroke-linejoin="round"/><path d="M572.00 107.85L574.15 110.00L572.00 112.15L569.85 110.00Z" fill="#CCEBC5" stroke="#1f1f1f" stroke-width="1.05" stroke-linejoin="round"/><path d="M596.56 87.85L598.71 90.00L596.56 92.15L594.41 90.00Z" fill="#CCEBC5" stroke="#1f1f1f" stroke-width="1.05" stroke-linejoin="round"/><path d="M621.12 74.85L623.27 77.00L621.12 79.15L618.97 77.00Z" fill="#CCEBC5" stroke="#1f1f1f" stroke-width="1.05" stroke-linejoin="round"/><path d="M645.68 60.85L647.83 63.00L645.68 65.15L643.53 63.00Z" fill="#CCEBC5" stroke="#1f1f1f" stroke-width="1.05" stroke-linejoin="round"/><path d="M670.24 58.69L672.39 60.84L670.24 62.99L668.09 60.84Z" fill="#CCEBC5" stroke="#1f1f1f" stroke-width="1.05" stroke-linejoin="round"/><path d="M449.20 149.85L451.35 152.00L449.20 154.15L447.05 152.00Z" fill="#CCEBC5" stroke="#1f1f1f" stroke-width="1.05" stroke-linejoin="round"/><path d="M522.88 145.31L525.03 147.46L522.88 149.61L520.73 147.46Z" fill="#CCEBC5" stroke="#1f1f1f" stroke-width="1.05" stroke-linejoin="round"/><path d="M547.44 147.65L549.59 149.80L547.44 151.95L545.29 149.80Z" fill="#CCEBC5" stroke="#1f1f1f" stroke-width="1.05" stroke-linejoin="round"/><path d="M572.00 127.92L574.15 130.07L572.00 132.22L569.85 130.07Z" fill="#CCEBC5" stroke="#1f1f1f" stroke-width="1.05" stroke-linejoin="round"/><path d="M596.56 111.58L598.71 113.73L596.56 115.88L594.41 113.73Z" fill="#CCEBC5" stroke="#1f1f1f" stroke-width="1.05" stroke-linejoin="round"/><path d="M621.12 101.99L623.27 104.14L621.12 106.29L618.97 104.14Z" fill="#CCEBC5" stroke="#1f1f1f" stroke-width="1.05" stroke-linejoin="round"/><path d="M645.68 88.75L647.83 90.90L645.68 93.05L643.53 90.90Z" fill="#CCEBC5" stroke="#1f1f1f" stroke-width="1.05" stroke-linejoin="round"/><path d="M670.24 83.58L672.39 85.73L670.24 87.88L668.09 85.73Z" fill="#CCEBC5" stroke="#1f1f1f" stroke-width="1.05" stroke-linejoin="round"/><path d="M350.96 193.59L353.11 195.74L350.96 197.89L348.81 195.74Z" fill="#CCEBC5" stroke="#1f1f1f" stroke-width="1.05" stroke-linejoin="round"/><path d="M547.44 132.26L549.59 134.41L547.44 136.56L545.29 134.41Z" fill="#CCEBC5" stroke="#1f1f1f" stroke-width="1.05" stroke-linejoin="round"/><path d="M572.00 108.76L574.15 110.91L572.00 113.06L569.85 110.91Z" fill="#CCEBC5" stroke="#1f1f1f" stroke-width="1.05" stroke-linejoin="round"/><path d="M596.56 94.74L598.71 96.89L596.56 99.04L594.41 96.89Z" fill="#CCEBC5" stroke="#1f1f1f" stroke-width="1.05" stroke-linejoin="round"/><path d="M621.12 83.86L623.27 86.01L621.12 88.16L618.97 86.01Z" fill="#CCEBC5" stroke="#1f1f1f" stroke-width="1.05" stroke-linejoin="round"/><path d="M645.68 68.63L647.83 70.78L645.68 72.93L643.53 70.78Z" fill="#CCEBC5" stroke="#1f1f1f" stroke-width="1.05" stroke-linejoin="round"/><path d="M670.24 60.95L672.39 63.10L670.24 65.25L668.09 63.10Z" fill="#CCEBC5" stroke="#1f1f1f" stroke-width="1.05" stroke-linejoin="round"/><path d="M326.40 144.16L328.55 146.31L326.40 148.46L324.25 146.31Z" fill="#CCEBC5" stroke="#1f1f1f" stroke-width="1.05" stroke-linejoin="round"/><path d="M350.96 149.66L353.11 151.81L350.96 153.96L348.81 151.81Z" fill="#CCEBC5" stroke="#1f1f1f" stroke-width="1.05" stroke-linejoin="round"/><path d="M375.52 153.67L377.67 155.82L375.52 157.97L373.37 155.82Z" fill="#CCEBC5" stroke="#1f1f1f" stroke-width="1.05" stroke-linejoin="round"/><path d="M400.08 148.96L402.23 151.11L400.08 153.26L397.93 151.11Z" fill="#CCEBC5" stroke="#1f1f1f" stroke-width="1.05" stroke-linejoin="round"/><path d="M547.44 125.31L549.59 127.46L547.44 129.61L545.29 127.46Z" fill="#CCEBC5" stroke="#1f1f1f" stroke-width="1.05" stroke-linejoin="round"/><path d="M572.00 107.89L574.15 110.04L572.00 112.19L569.85 110.04Z" fill="#CCEBC5" stroke="#1f1f1f" stroke-width="1.05" stroke-linejoin="round"/><path d="M596.56 87.87L598.71 90.02L596.56 92.17L594.41 90.02Z" fill="#CCEBC5" stroke="#1f1f1f" stroke-width="1.05" stroke-linejoin="round"/><path d="M621.12 78.11L623.27 80.26L621.12 82.41L618.97 80.26Z" fill="#CCEBC5" stroke="#1f1f1f" stroke-width="1.05" stroke-linejoin="round"/><path d="M645.68 64.99L647.83 67.14L645.68 69.29L643.53 67.14Z" fill="#CCEBC5" stroke="#1f1f1f" stroke-width="1.05" stroke-linejoin="round"/><path d="M670.24 53.85L672.39 56.00L670.24 58.15L668.09 56.00Z" fill="#CCEBC5" stroke="#1f1f1f" stroke-width="1.05" stroke-linejoin="round"/><path d="M326.40 167.29L328.55 169.44L326.40 171.59L324.25 169.44Z" fill="#CCEBC5" stroke="#1f1f1f" stroke-width="1.05" stroke-linejoin="round"/><path d="M350.96 171.88L353.11 174.03L350.96 176.18L348.81 174.03Z" fill="#CCEBC5" stroke="#1f1f1f" stroke-width="1.05" stroke-linejoin="round"/><path d="M547.44 128.40L549.59 130.55L547.44 132.70L545.29 130.55Z" fill="#CCEBC5" stroke="#1f1f1f" stroke-width="1.05" stroke-linejoin="round"/><path d="M572.00 110.59L574.15 112.74L572.00 114.89L569.85 112.74Z" fill="#CCEBC5" stroke="#1f1f1f" stroke-width="1.05" stroke-linejoin="round"/><path d="M596.56 89.38L598.71 91.53L596.56 93.68L594.41 91.53Z" fill="#CCEBC5" stroke="#1f1f1f" stroke-width="1.05" stroke-linejoin="round"/><path d="M621.12 80.61L623.27 82.76L621.12 84.91L618.97 82.76Z" fill="#CCEBC5" stroke="#1f1f1f" stroke-width="1.05" stroke-linejoin="round"/><path d="M645.68 70.50L647.83 72.65L645.68 74.80L643.53 72.65Z" fill="#CCEBC5" stroke="#1f1f1f" stroke-width="1.05" stroke-linejoin="round"/><path d="M670.24 55.83L672.39 57.98L670.24 60.13L668.09 57.98Z" fill="#CCEBC5" stroke="#1f1f1f" stroke-width="1.05" stroke-linejoin="round"/><path d="M350.96 186.95L353.11 189.10L350.96 191.25L348.81 189.10Z" fill="#CCEBC5" stroke="#1f1f1f" stroke-width="1.05" stroke-linejoin="round"/><path d="M547.44 146.14L549.59 148.29L547.44 150.44L545.29 148.29Z" fill="#CCEBC5" stroke="#1f1f1f" stroke-width="1.05" stroke-linejoin="round"/><path d="M572.00 125.92L574.15 128.07L572.00 130.22L569.85 128.07Z" fill="#CCEBC5" stroke="#1f1f1f" stroke-width="1.05" stroke-linejoin="round"/><path d="M596.56 116.11L598.71 118.26L596.56 120.41L594.41 118.26Z" fill="#CCEBC5" stroke="#1f1f1f" stroke-width="1.05" stroke-linejoin="round"/><path d="M621.12 96.50L623.27 98.65L621.12 100.80L618.97 98.65Z" fill="#CCEBC5" stroke="#1f1f1f" stroke-width="1.05" stroke-linejoin="round"/><path d="M645.68 84.63L647.83 86.78L645.68 88.93L643.53 86.78Z" fill="#CCEBC5" stroke="#1f1f1f" stroke-width="1.05" stroke-linejoin="round"/><path d="M670.24 81.69L672.39 83.84L670.24 85.99L668.09 83.84Z" fill="#CCEBC5" stroke="#1f1f1f" stroke-width="1.05" stroke-linejoin="round"/><path d="M498.32 150.15L500.47 152.30L498.32 154.45L496.17 152.30Z" fill="#CCEBC5" stroke="#1f1f1f" stroke-width="1.05" stroke-linejoin="round"/><path d="M547.44 130.71L549.59 132.86L547.44 135.01L545.29 132.86Z" fill="#CCEBC5" stroke="#1f1f1f" stroke-width="1.05" stroke-linejoin="round"/><path d="M572.00 111.40L574.15 113.55L572.00 115.70L569.85 113.55Z" fill="#CCEBC5" stroke="#1f1f1f" stroke-width="1.05" stroke-linejoin="round"/><path d="M596.56 93.45L598.71 95.60L596.56 97.75L594.41 95.60Z" fill="#CCEBC5" stroke="#1f1f1f" stroke-width="1.05" stroke-linejoin="round"/><path d="M621.12 75.64L623.27 77.79L621.12 79.94L618.97 77.79Z" fill="#CCEBC5" stroke="#1f1f1f" stroke-width="1.05" stroke-linejoin="round"/><path d="M645.68 66.48L647.83 68.63L645.68 70.78L643.53 68.63Z" fill="#CCEBC5" stroke="#1f1f1f" stroke-width="1.05" stroke-linejoin="round"/><path d="M670.24 61.58L672.39 63.73L670.24 65.88L668.09 63.73Z" fill="#CCEBC5" stroke="#1f1f1f" stroke-width="1.05" stroke-linejoin="round"/><path d="M326.40 157.57L328.55 159.72L326.40 161.87L324.25 159.72Z" fill="#CCEBC5" stroke="#1f1f1f" stroke-width="1.05" stroke-linejoin="round"/><path d="M350.96 160.80L353.11 162.95L350.96 165.10L348.81 162.95Z" fill="#CCEBC5" stroke="#1f1f1f" stroke-width="1.05" stroke-linejoin="round"/><path d="M473.76 147.00L475.91 149.15L473.76 151.30L471.61 149.15Z" fill="#CCEBC5" stroke="#1f1f1f" stroke-width="1.05" stroke-linejoin="round"/><path d="M547.44 138.50L549.59 140.65L547.44 142.80L545.29 140.65Z" fill="#CCEBC5" stroke="#1f1f1f" stroke-width="1.05" stroke-linejoin="round"/><path d="M572.00 119.02L574.15 121.17L572.00 123.32L569.85 121.17Z" fill="#CCEBC5" stroke="#1f1f1f" stroke-width="1.05" stroke-linejoin="round"/><path d="M596.56 105.06L598.71 107.21L596.56 109.36L594.41 107.21Z" fill="#CCEBC5" stroke="#1f1f1f" stroke-width="1.05" stroke-linejoin="round"/><path d="M621.12 88.05L623.27 90.20L621.12 92.35L618.97 90.20Z" fill="#CCEBC5" stroke="#1f1f1f" stroke-width="1.05" stroke-linejoin="round"/><path d="M645.68 79.46L647.83 81.61L645.68 83.76L643.53 81.61Z" fill="#CCEBC5" stroke="#1f1f1f" stroke-width="1.05" stroke-linejoin="round"/><path d="M670.24 72.16L672.39 74.31L670.24 76.46L668.09 74.31Z" fill="#CCEBC5" stroke="#1f1f1f" stroke-width="1.05" stroke-linejoin="round"/><path d="M350.96 197.13L353.11 199.28L350.96 201.43L348.81 199.28Z" fill="#CCEBC5" stroke="#1f1f1f" stroke-width="1.05" stroke-linejoin="round"/><path d="M547.44 127.90L549.59 130.05L547.44 132.20L545.29 130.05Z" fill="#CCEBC5" stroke="#1f1f1f" stroke-width="1.05" stroke-linejoin="round"/><path d="M572.00 111.16L574.15 113.31L572.00 115.46L569.85 113.31Z" fill="#CCEBC5" stroke="#1f1f1f" stroke-width="1.05" stroke-linejoin="round"/><path d="M596.56 91.35L598.71 93.50L596.56 95.65L594.41 93.50Z" fill="#CCEBC5" stroke="#1f1f1f" stroke-width="1.05" stroke-linejoin="round"/><path d="M621.12 75.28L623.27 77.43L621.12 79.58L618.97 77.43Z" fill="#CCEBC5" stroke="#1f1f1f" stroke-width="1.05" stroke-linejoin="round"/><path d="M645.68 60.85L647.83 63.00L645.68 65.15L643.53 63.00Z" fill="#CCEBC5" stroke="#1f1f1f" stroke-width="1.05" stroke-linejoin="round"/><path d="M670.24 57.54L672.39 59.69L670.24 61.84L668.09 59.69Z" fill="#CCEBC5" stroke="#1f1f1f" stroke-width="1.05" stroke-linejoin="round"/><path d="M547.44 157.85L549.59 160.00L547.44 162.15L545.29 160.00Z" fill="#CCEBC5" stroke="#1f1f1f" stroke-width="1.05" stroke-linejoin="round"/><path d="M572.00 158.45L574.15 160.60L572.00 162.75L569.85 160.60Z" fill="#CCEBC5" stroke="#1f1f1f" stroke-width="1.05" stroke-linejoin="round"/><path d="M596.56 116.01L598.71 118.16L596.56 120.31L594.41 118.16Z" fill="#CCEBC5" stroke="#1f1f1f" stroke-width="1.05" stroke-linejoin="round"/><path d="M621.12 103.15L623.27 105.30L621.12 107.45L618.97 105.30Z" fill="#CCEBC5" stroke="#1f1f1f" stroke-width="1.05" stroke-linejoin="round"/><path d="M645.68 93.22L647.83 95.37L645.68 97.52L643.53 95.37Z" fill="#CCEBC5" stroke="#1f1f1f" stroke-width="1.05" stroke-linejoin="round"/><path d="M670.24 86.93L672.39 89.08L670.24 91.23L668.09 89.08Z" fill="#CCEBC5" stroke="#1f1f1f" stroke-width="1.05" stroke-linejoin="round"/><path d="M547.44 142.76L549.59 144.91L547.44 147.06L545.29 144.91Z" fill="#CCEBC5" stroke="#1f1f1f" stroke-width="1.05" stroke-linejoin="round"/><path d="M572.00 123.33L574.15 125.48L572.00 127.63L569.85 125.48Z" fill="#CCEBC5" stroke="#1f1f1f" stroke-width="1.05" stroke-linejoin="round"/><path d="M596.56 101.27L598.71 103.42L596.56 105.57L594.41 103.42Z" fill="#CCEBC5" stroke="#1f1f1f" stroke-width="1.05" stroke-linejoin="round"/><path d="M621.12 94.10L623.27 96.25L621.12 98.40L618.97 96.25Z" fill="#CCEBC5" stroke="#1f1f1f" stroke-width="1.05" stroke-linejoin="round"/><path d="M645.68 75.74L647.83 77.89L645.68 80.04L643.53 77.89Z" fill="#CCEBC5" stroke="#1f1f1f" stroke-width="1.05" stroke-linejoin="round"/><path d="M670.24 69.36L672.39 71.51L670.24 73.66L668.09 71.51Z" fill="#CCEBC5" stroke="#1f1f1f" stroke-width="1.05" stroke-linejoin="round"/><path d="M547.44 132.55L549.59 134.70L547.44 136.85L545.29 134.70Z" fill="#CCEBC5" stroke="#1f1f1f" stroke-width="1.05" stroke-linejoin="round"/><path d="M572.00 115.56L574.15 117.71L572.00 119.86L569.85 117.71Z" fill="#CCEBC5" stroke="#1f1f1f" stroke-width="1.05" stroke-linejoin="round"/><path d="M596.56 95.28L598.71 97.43L596.56 99.58L594.41 97.43Z" fill="#CCEBC5" stroke="#1f1f1f" stroke-width="1.05" stroke-linejoin="round"/><path d="M621.12 84.13L623.27 86.28L621.12 88.43L618.97 86.28Z" fill="#CCEBC5" stroke="#1f1f1f" stroke-width="1.05" stroke-linejoin="round"/><path d="M645.68 74.15L647.83 76.30L645.68 78.45L643.53 76.30Z" fill="#CCEBC5" stroke="#1f1f1f" stroke-width="1.05" stroke-linejoin="round"/><path d="M670.24 60.74L672.39 62.89L670.24 65.04L668.09 62.89Z" fill="#CCEBC5" stroke="#1f1f1f" stroke-width="1.05" stroke-linejoin="round"/><path d="M449.20 157.00L451.35 159.15L449.20 161.30L447.05 159.15Z" fill="#CCEBC5" stroke="#1f1f1f" stroke-width="1.05" stroke-linejoin="round"/><path d="M547.44 121.85L549.59 124.00L547.44 126.15L545.29 124.00Z" fill="#CCEBC5" stroke="#1f1f1f" stroke-width="1.05" stroke-linejoin="round"/><path d="M572.00 107.85L574.15 110.00L572.00 112.15L569.85 110.00Z" fill="#CCEBC5" stroke="#1f1f1f" stroke-width="1.05" stroke-linejoin="round"/><path d="M596.56 87.85L598.71 90.00L596.56 92.15L594.41 90.00Z" fill="#CCEBC5" stroke="#1f1f1f" stroke-width="1.05" stroke-linejoin="round"/><path d="M621.12 79.16L623.27 81.31L621.12 83.46L618.97 81.31Z" fill="#CCEBC5" stroke="#1f1f1f" stroke-width="1.05" stroke-linejoin="round"/><path d="M645.68 62.16L647.83 64.31L645.68 66.46L643.53 64.31Z" fill="#CCEBC5" stroke="#1f1f1f" stroke-width="1.05" stroke-linejoin="round"/><path d="M670.24 53.85L672.39 56.00L670.24 58.15L668.09 56.00Z" fill="#CCEBC5" stroke="#1f1f1f" stroke-width="1.05" stroke-linejoin="round"/><path d="M547.44 127.47L549.59 129.62L547.44 131.77L545.29 129.62Z" fill="#CCEBC5" stroke="#1f1f1f" stroke-width="1.05" stroke-linejoin="round"/><path d="M572.00 110.22L574.15 112.37L572.00 114.52L569.85 112.37Z" fill="#CCEBC5" stroke="#1f1f1f" stroke-width="1.05" stroke-linejoin="round"/><path d="M596.56 97.82L598.71 99.97L596.56 102.12L594.41 99.97Z" fill="#CCEBC5" stroke="#1f1f1f" stroke-width="1.05" stroke-linejoin="round"/><path d="M621.12 85.47L623.27 87.62L621.12 89.77L618.97 87.62Z" fill="#CCEBC5" stroke="#1f1f1f" stroke-width="1.05" stroke-linejoin="round"/><path d="M645.68 73.12L647.83 75.27L645.68 77.42L643.53 75.27Z" fill="#CCEBC5" stroke="#1f1f1f" stroke-width="1.05" stroke-linejoin="round"/><path d="M670.24 66.80L672.39 68.95L670.24 71.10L668.09 68.95Z" fill="#CCEBC5" stroke="#1f1f1f" stroke-width="1.05" stroke-linejoin="round"/><path d="M350.96 209.66L353.11 211.81L350.96 213.96L348.81 211.81Z" fill="#CCEBC5" stroke="#1f1f1f" stroke-width="1.05" stroke-linejoin="round"/><path d="M498.32 153.02L500.47 155.17L498.32 157.32L496.17 155.17Z" fill="#CCEBC5" stroke="#1f1f1f" stroke-width="1.05" stroke-linejoin="round"/><path d="M547.44 128.63L549.59 130.78L547.44 132.93L545.29 130.78Z" fill="#CCEBC5" stroke="#1f1f1f" stroke-width="1.05" stroke-linejoin="round"/><path d="M572.00 116.43L574.15 118.58L572.00 120.73L569.85 118.58Z" fill="#CCEBC5" stroke="#1f1f1f" stroke-width="1.05" stroke-linejoin="round"/><path d="M596.56 95.32L598.71 97.47L596.56 99.62L594.41 97.47Z" fill="#CCEBC5" stroke="#1f1f1f" stroke-width="1.05" stroke-linejoin="round"/><path d="M621.12 86.72L623.27 88.87L621.12 91.02L618.97 88.87Z" fill="#CCEBC5" stroke="#1f1f1f" stroke-width="1.05" stroke-linejoin="round"/><path d="M645.68 68.80L647.83 70.95L645.68 73.10L643.53 70.95Z" fill="#CCEBC5" stroke="#1f1f1f" stroke-width="1.05" stroke-linejoin="round"/><path d="M670.24 60.15L672.39 62.30L670.24 64.45L668.09 62.30Z" fill="#CCEBC5" stroke="#1f1f1f" stroke-width="1.05" stroke-linejoin="round"/><path d="M326.40 161.85L328.55 164.00L326.40 166.15L324.25 164.00Z" fill="#CCEBC5" stroke="#1f1f1f" stroke-width="1.05" stroke-linejoin="round"/><path d="M350.96 165.12L353.11 167.27L350.96 169.42L348.81 167.27Z" fill="#CCEBC5" stroke="#1f1f1f" stroke-width="1.05" stroke-linejoin="round"/><path d="M547.44 138.86L549.59 141.01L547.44 143.16L545.29 141.01Z" fill="#CCEBC5" stroke="#1f1f1f" stroke-width="1.05" stroke-linejoin="round"/><path d="M572.00 127.58L574.15 129.73L572.00 131.88L569.85 129.73Z" fill="#CCEBC5" stroke="#1f1f1f" stroke-width="1.05" stroke-linejoin="round"/><path d="M596.56 102.71L598.71 104.86L596.56 107.01L594.41 104.86Z" fill="#CCEBC5" stroke="#1f1f1f" stroke-width="1.05" stroke-linejoin="round"/><path d="M621.12 92.12L623.27 94.27L621.12 96.42L618.97 94.27Z" fill="#CCEBC5" stroke="#1f1f1f" stroke-width="1.05" stroke-linejoin="round"/><path d="M645.68 82.54L647.83 84.69L645.68 86.84L643.53 84.69Z" fill="#CCEBC5" stroke="#1f1f1f" stroke-width="1.05" stroke-linejoin="round"/><path d="M670.24 74.20L672.39 76.35L670.24 78.50L668.09 76.35Z" fill="#CCEBC5" stroke="#1f1f1f" stroke-width="1.05" stroke-linejoin="round"/><path d="M326.40 165.63L328.55 167.78L326.40 169.93L324.25 167.78Z" fill="#CCEBC5" stroke="#1f1f1f" stroke-width="1.05" stroke-linejoin="round"/><path d="M350.96 167.74L353.11 169.89L350.96 172.04L348.81 169.89Z" fill="#CCEBC5" stroke="#1f1f1f" stroke-width="1.05" stroke-linejoin="round"/><path d="M473.76 150.09L475.91 152.24L473.76 154.39L471.61 152.24Z" fill="#CCEBC5" stroke="#1f1f1f" stroke-width="1.05" stroke-linejoin="round"/><path d="M498.32 146.39L500.47 148.54L498.32 150.69L496.17 148.54Z" fill="#CCEBC5" stroke="#1f1f1f" stroke-width="1.05" stroke-linejoin="round"/><path d="M547.44 127.20L549.59 129.35L547.44 131.50L545.29 129.35Z" fill="#CCEBC5" stroke="#1f1f1f" stroke-width="1.05" stroke-linejoin="round"/><path d="M572.00 112.23L574.15 114.38L572.00 116.53L569.85 114.38Z" fill="#CCEBC5" stroke="#1f1f1f" stroke-width="1.05" stroke-linejoin="round"/><path d="M596.56 92.64L598.71 94.79L596.56 96.94L594.41 94.79Z" fill="#CCEBC5" stroke="#1f1f1f" stroke-width="1.05" stroke-linejoin="round"/><path d="M621.12 85.85L623.27 88.00L621.12 90.15L618.97 88.00Z" fill="#CCEBC5" stroke="#1f1f1f" stroke-width="1.05" stroke-linejoin="round"/><path d="M645.68 67.69L647.83 69.84L645.68 71.99L643.53 69.84Z" fill="#CCEBC5" stroke="#1f1f1f" stroke-width="1.05" stroke-linejoin="round"/><path d="M670.24 58.58L672.39 60.73L670.24 62.88L668.09 60.73Z" fill="#CCEBC5" stroke="#1f1f1f" stroke-width="1.05" stroke-linejoin="round"/><path d="M350.96 189.59L353.11 191.74L350.96 193.89L348.81 191.74Z" fill="#CCEBC5" stroke="#1f1f1f" stroke-width="1.05" stroke-linejoin="round"/><path d="M547.44 128.50L549.59 130.65L547.44 132.80L545.29 130.65Z" fill="#CCEBC5" stroke="#1f1f1f" stroke-width="1.05" stroke-linejoin="round"/><path d="M572.00 112.29L574.15 114.44L572.00 116.59L569.85 114.44Z" fill="#CCEBC5" stroke="#1f1f1f" stroke-width="1.05" stroke-linejoin="round"/><path d="M596.56 87.85L598.71 90.00L596.56 92.15L594.41 90.00Z" fill="#CCEBC5" stroke="#1f1f1f" stroke-width="1.05" stroke-linejoin="round"/><path d="M621.12 74.85L623.27 77.00L621.12 79.15L618.97 77.00Z" fill="#CCEBC5" stroke="#1f1f1f" stroke-width="1.05" stroke-linejoin="round"/><path d="M645.68 67.37L647.83 69.52L645.68 71.67L643.53 69.52Z" fill="#CCEBC5" stroke="#1f1f1f" stroke-width="1.05" stroke-linejoin="round"/><path d="M670.24 53.85L672.39 56.00L670.24 58.15L668.09 56.00Z" fill="#CCEBC5" stroke="#1f1f1f" stroke-width="1.05" stroke-linejoin="round"/><path d="M350.96 200.65L353.11 202.80L350.96 204.95L348.81 202.80Z" fill="#CCEBC5" stroke="#1f1f1f" stroke-width="1.05" stroke-linejoin="round"/><path d="M547.44 144.48L549.59 148.20L545.29 148.20Z" fill="#DECBE4" stroke="#1f1f1f" stroke-width="1.05" stroke-linejoin="round"/><path d="M572.00 131.36L574.15 135.09L569.85 135.09Z" fill="#DECBE4" stroke="#1f1f1f" stroke-width="1.05" stroke-linejoin="round"/><path d="M596.56 117.18L598.71 120.90L594.41 120.90Z" fill="#DECBE4" stroke="#1f1f1f" stroke-width="1.05" stroke-linejoin="round"/><path d="M621.12 112.72L623.27 116.45L618.97 116.45Z" fill="#DECBE4" stroke="#1f1f1f" stroke-width="1.05" stroke-linejoin="round"/><path d="M645.68 99.99L647.83 103.71L643.53 103.71Z" fill="#DECBE4" stroke="#1f1f1f" stroke-width="1.05" stroke-linejoin="round"/><path d="M670.24 98.48L672.39 102.20L668.09 102.20Z" fill="#DECBE4" stroke="#1f1f1f" stroke-width="1.05" stroke-linejoin="round"/><path d="M350.96 174.59L353.11 178.31L348.81 178.31Z" fill="#DECBE4" stroke="#1f1f1f" stroke-width="1.05" stroke-linejoin="round"/><path d="M547.44 155.11L549.59 158.84L545.29 158.84Z" fill="#DECBE4" stroke="#1f1f1f" stroke-width="1.05" stroke-linejoin="round"/><path d="M572.00 133.97L574.15 137.69L569.85 137.69Z" fill="#DECBE4" stroke="#1f1f1f" stroke-width="1.05" stroke-linejoin="round"/><path d="M596.56 125.49L598.71 129.21L594.41 129.21Z" fill="#DECBE4" stroke="#1f1f1f" stroke-width="1.05" stroke-linejoin="round"/><path d="M621.12 118.31L623.27 122.04L618.97 122.04Z" fill="#DECBE4" stroke="#1f1f1f" stroke-width="1.05" stroke-linejoin="round"/><path d="M645.68 114.71L647.83 118.43L643.53 118.43Z" fill="#DECBE4" stroke="#1f1f1f" stroke-width="1.05" stroke-linejoin="round"/><path d="M670.24 107.61L672.39 111.34L668.09 111.34Z" fill="#DECBE4" stroke="#1f1f1f" stroke-width="1.05" stroke-linejoin="round"/><path d="M547.44 155.90L549.59 159.62L545.29 159.62Z" fill="#DECBE4" stroke="#1f1f1f" stroke-width="1.05" stroke-linejoin="round"/><path d="M572.00 138.52L574.15 142.24L569.85 142.24Z" fill="#DECBE4" stroke="#1f1f1f" stroke-width="1.05" stroke-linejoin="round"/><path d="M596.56 129.33L598.71 133.06L594.41 133.06Z" fill="#DECBE4" stroke="#1f1f1f" stroke-width="1.05" stroke-linejoin="round"/><path d="M621.12 119.18L623.27 122.90L618.97 122.90Z" fill="#DECBE4" stroke="#1f1f1f" stroke-width="1.05" stroke-linejoin="round"/><path d="M645.68 117.52L647.83 121.24L643.53 121.24Z" fill="#DECBE4" stroke="#1f1f1f" stroke-width="1.05" stroke-linejoin="round"/><path d="M670.24 112.44L672.39 116.16L668.09 116.16Z" fill="#DECBE4" stroke="#1f1f1f" stroke-width="1.05" stroke-linejoin="round"/><path d="M498.32 157.75L500.47 161.47L496.17 161.47Z" fill="#DECBE4" stroke="#1f1f1f" stroke-width="1.05" stroke-linejoin="round"/><path d="M522.88 157.73L525.03 161.45L520.73 161.45Z" fill="#DECBE4" stroke="#1f1f1f" stroke-width="1.05" stroke-linejoin="round"/><path d="M547.44 131.52L549.59 135.24L545.29 135.24Z" fill="#DECBE4" stroke="#1f1f1f" stroke-width="1.05" stroke-linejoin="round"/><path d="M572.00 124.41L574.15 128.13L569.85 128.13Z" fill="#DECBE4" stroke="#1f1f1f" stroke-width="1.05" stroke-linejoin="round"/><path d="M596.56 105.52L598.71 109.24L594.41 109.24Z" fill="#DECBE4" stroke="#1f1f1f" stroke-width="1.05" stroke-linejoin="round"/><path d="M621.12 99.00L623.27 102.73L618.97 102.73Z" fill="#DECBE4" stroke="#1f1f1f" stroke-width="1.05" stroke-linejoin="round"/><path d="M645.68 90.42L647.83 94.15L643.53 94.15Z" fill="#DECBE4" stroke="#1f1f1f" stroke-width="1.05" stroke-linejoin="round"/><path d="M670.24 86.49L672.39 90.21L668.09 90.21Z" fill="#DECBE4" stroke="#1f1f1f" stroke-width="1.05" stroke-linejoin="round"/><path d="M547.44 147.20L549.59 150.93L545.29 150.93Z" fill="#DECBE4" stroke="#1f1f1f" stroke-width="1.05" stroke-linejoin="round"/><path d="M572.00 131.89L574.15 135.61L569.85 135.61Z" fill="#DECBE4" stroke="#1f1f1f" stroke-width="1.05" stroke-linejoin="round"/><path d="M596.56 119.54L598.71 123.26L594.41 123.26Z" fill="#DECBE4" stroke="#1f1f1f" stroke-width="1.05" stroke-linejoin="round"/><path d="M621.12 114.28L623.27 118.01L618.97 118.01Z" fill="#DECBE4" stroke="#1f1f1f" stroke-width="1.05" stroke-linejoin="round"/><path d="M645.68 103.90L647.83 107.62L643.53 107.62Z" fill="#DECBE4" stroke="#1f1f1f" stroke-width="1.05" stroke-linejoin="round"/><path d="M670.24 97.63L672.39 101.35L668.09 101.35Z" fill="#DECBE4" stroke="#1f1f1f" stroke-width="1.05" stroke-linejoin="round"/><path d="M375.52 170.58L377.67 174.30L373.37 174.30Z" fill="#DECBE4" stroke="#1f1f1f" stroke-width="1.05" stroke-linejoin="round"/><path d="M547.44 139.86L549.59 143.58L545.29 143.58Z" fill="#DECBE4" stroke="#1f1f1f" stroke-width="1.05" stroke-linejoin="round"/><path d="M572.00 126.75L574.15 130.47L569.85 130.47Z" fill="#DECBE4" stroke="#1f1f1f" stroke-width="1.05" stroke-linejoin="round"/><path d="M596.56 108.91L598.71 112.64L594.41 112.64Z" fill="#DECBE4" stroke="#1f1f1f" stroke-width="1.05" stroke-linejoin="round"/><path d="M621.12 97.80L623.27 101.53L618.97 101.53Z" fill="#DECBE4" stroke="#1f1f1f" stroke-width="1.05" stroke-linejoin="round"/><path d="M645.68 90.87L647.83 94.60L643.53 94.60Z" fill="#DECBE4" stroke="#1f1f1f" stroke-width="1.05" stroke-linejoin="round"/><path d="M670.24 86.26L672.39 89.99L668.09 89.99Z" fill="#DECBE4" stroke="#1f1f1f" stroke-width="1.05" stroke-linejoin="round"/><path d="M547.44 143.47L549.59 147.19L545.29 147.19Z" fill="#DECBE4" stroke="#1f1f1f" stroke-width="1.05" stroke-linejoin="round"/><path d="M572.00 127.19L574.15 130.92L569.85 130.92Z" fill="#DECBE4" stroke="#1f1f1f" stroke-width="1.05" stroke-linejoin="round"/><path d="M596.56 115.44L598.71 119.17L594.41 119.17Z" fill="#DECBE4" stroke="#1f1f1f" stroke-width="1.05" stroke-linejoin="round"/><path d="M621.12 103.88L623.27 107.61L618.97 107.61Z" fill="#DECBE4" stroke="#1f1f1f" stroke-width="1.05" stroke-linejoin="round"/><path d="M645.68 98.64L647.83 102.36L643.53 102.36Z" fill="#DECBE4" stroke="#1f1f1f" stroke-width="1.05" stroke-linejoin="round"/><path d="M670.24 91.05L672.39 94.77L668.09 94.77Z" fill="#DECBE4" stroke="#1f1f1f" stroke-width="1.05" stroke-linejoin="round"/><path d="M547.44 162.03L549.59 158.31L545.29 158.31Z" fill="#FED9A6" stroke="#1f1f1f" stroke-width="1.05" stroke-linejoin="round"/><path d="M572.00 143.18L574.15 139.45L569.85 139.45Z" fill="#FED9A6" stroke="#1f1f1f" stroke-width="1.05" stroke-linejoin="round"/><path d="M596.56 135.58L598.71 131.86L594.41 131.86Z" fill="#FED9A6" stroke="#1f1f1f" stroke-width="1.05" stroke-linejoin="round"/><path d="M621.12 118.70L623.27 114.98L618.97 114.98Z" fill="#FED9A6" stroke="#1f1f1f" stroke-width="1.05" stroke-linejoin="round"/><path d="M645.68 112.98L647.83 109.26L643.53 109.26Z" fill="#FED9A6" stroke="#1f1f1f" stroke-width="1.05" stroke-linejoin="round"/><path d="M670.24 107.18L672.39 103.45L668.09 103.45Z" fill="#FED9A6" stroke="#1f1f1f" stroke-width="1.05" stroke-linejoin="round"/><path d="M547.44 151.62L549.59 147.90L545.29 147.90Z" fill="#FED9A6" stroke="#1f1f1f" stroke-width="1.05" stroke-linejoin="round"/><path d="M572.00 131.87L574.15 128.15L569.85 128.15Z" fill="#FED9A6" stroke="#1f1f1f" stroke-width="1.05" stroke-linejoin="round"/><path d="M596.56 123.41L598.71 119.68L594.41 119.68Z" fill="#FED9A6" stroke="#1f1f1f" stroke-width="1.05" stroke-linejoin="round"/><path d="M621.12 116.92L623.27 113.20L618.97 113.20Z" fill="#FED9A6" stroke="#1f1f1f" stroke-width="1.05" stroke-linejoin="round"/><path d="M645.68 99.77L647.83 96.04L643.53 96.04Z" fill="#FED9A6" stroke="#1f1f1f" stroke-width="1.05" stroke-linejoin="round"/><path d="M670.24 97.70L672.39 93.97L668.09 93.97Z" fill="#FED9A6" stroke="#1f1f1f" stroke-width="1.05" stroke-linejoin="round"/><path d="M547.44 148.12L549.59 144.39L545.29 144.39Z" fill="#FED9A6" stroke="#1f1f1f" stroke-width="1.05" stroke-linejoin="round"/><path d="M572.00 131.20L574.15 127.47L569.85 127.47Z" fill="#FED9A6" stroke="#1f1f1f" stroke-width="1.05" stroke-linejoin="round"/><path d="M596.56 124.50L598.71 120.78L594.41 120.78Z" fill="#FED9A6" stroke="#1f1f1f" stroke-width="1.05" stroke-linejoin="round"/><path d="M621.12 108.36L623.27 104.63L618.97 104.63Z" fill="#FED9A6" stroke="#1f1f1f" stroke-width="1.05" stroke-linejoin="round"/><path d="M645.68 105.53L647.83 101.81L643.53 101.81Z" fill="#FED9A6" stroke="#1f1f1f" stroke-width="1.05" stroke-linejoin="round"/><path d="M670.24 93.23L672.39 89.51L668.09 89.51Z" fill="#FED9A6" stroke="#1f1f1f" stroke-width="1.05" stroke-linejoin="round"/><path d="M498.32 148.97L500.47 145.24L496.17 145.24Z" fill="#FED9A6" stroke="#1f1f1f" stroke-width="1.05" stroke-linejoin="round"/><path d="M547.44 164.02L549.59 160.30L545.29 160.30Z" fill="#FED9A6" stroke="#1f1f1f" stroke-width="1.05" stroke-linejoin="round"/><path d="M572.00 139.93L574.15 136.21L569.85 136.21Z" fill="#FED9A6" stroke="#1f1f1f" stroke-width="1.05" stroke-linejoin="round"/><path d="M596.56 133.23L598.71 129.50L594.41 129.50Z" fill="#FED9A6" stroke="#1f1f1f" stroke-width="1.05" stroke-linejoin="round"/><path d="M621.12 121.42L623.27 117.70L618.97 117.70Z" fill="#FED9A6" stroke="#1f1f1f" stroke-width="1.05" stroke-linejoin="round"/><path d="M645.68 113.77L647.83 110.05L643.53 110.05Z" fill="#FED9A6" stroke="#1f1f1f" stroke-width="1.05" stroke-linejoin="round"/><path d="M670.24 105.38L672.39 101.65L668.09 101.65Z" fill="#FED9A6" stroke="#1f1f1f" stroke-width="1.05" stroke-linejoin="round"/><path d="M547.44 152.76L549.59 149.03L545.29 149.03Z" fill="#FED9A6" stroke="#1f1f1f" stroke-width="1.05" stroke-linejoin="round"/><path d="M572.00 135.64L574.15 131.91L569.85 131.91Z" fill="#FED9A6" stroke="#1f1f1f" stroke-width="1.05" stroke-linejoin="round"/><path d="M596.56 126.60L598.71 122.88L594.41 122.88Z" fill="#FED9A6" stroke="#1f1f1f" stroke-width="1.05" stroke-linejoin="round"/><path d="M621.12 114.30L623.27 110.57L618.97 110.57Z" fill="#FED9A6" stroke="#1f1f1f" stroke-width="1.05" stroke-linejoin="round"/><path d="M645.68 113.03L647.83 109.30L643.53 109.30Z" fill="#FED9A6" stroke="#1f1f1f" stroke-width="1.05" stroke-linejoin="round"/><path d="M670.24 104.00L672.39 100.27L668.09 100.27Z" fill="#FED9A6" stroke="#1f1f1f" stroke-width="1.05" stroke-linejoin="round"/><path d="M547.44 151.47L549.59 147.75L545.29 147.75Z" fill="#FED9A6" stroke="#1f1f1f" stroke-width="1.05" stroke-linejoin="round"/><path d="M572.00 139.07L574.15 135.35L569.85 135.35Z" fill="#FED9A6" stroke="#1f1f1f" stroke-width="1.05" stroke-linejoin="round"/><path d="M596.56 129.51L598.71 125.79L594.41 125.79Z" fill="#FED9A6" stroke="#1f1f1f" stroke-width="1.05" stroke-linejoin="round"/><path d="M621.12 120.02L623.27 116.30L618.97 116.30Z" fill="#FED9A6" stroke="#1f1f1f" stroke-width="1.05" stroke-linejoin="round"/><path d="M645.68 108.99L647.83 105.27L643.53 105.27Z" fill="#FED9A6" stroke="#1f1f1f" stroke-width="1.05" stroke-linejoin="round"/><path d="M670.24 106.13L672.39 102.41L668.09 102.41Z" fill="#FED9A6" stroke="#1f1f1f" stroke-width="1.05" stroke-linejoin="round"/><path d="M350.96 199.37L353.11 195.64L348.81 195.64Z" fill="#FED9A6" stroke="#1f1f1f" stroke-width="1.05" stroke-linejoin="round"/><path d="M473.76 157.26L475.91 153.54L471.61 153.54Z" fill="#FED9A6" stroke="#1f1f1f" stroke-width="1.05" stroke-linejoin="round"/><path d="M547.44 136.59L549.59 132.86L545.29 132.86Z" fill="#FED9A6" stroke="#1f1f1f" stroke-width="1.05" stroke-linejoin="round"/><path d="M572.00 121.92L574.15 118.20L569.85 118.20Z" fill="#FED9A6" stroke="#1f1f1f" stroke-width="1.05" stroke-linejoin="round"/><path d="M596.56 111.47L598.71 107.74L594.41 107.74Z" fill="#FED9A6" stroke="#1f1f1f" stroke-width="1.05" stroke-linejoin="round"/><path d="M621.12 102.99L623.27 99.27L618.97 99.27Z" fill="#FED9A6" stroke="#1f1f1f" stroke-width="1.05" stroke-linejoin="round"/><path d="M645.68 88.97L647.83 85.25L643.53 85.25Z" fill="#FED9A6" stroke="#1f1f1f" stroke-width="1.05" stroke-linejoin="round"/><path d="M670.24 88.43L672.39 84.70L668.09 84.70Z" fill="#FED9A6" stroke="#1f1f1f" stroke-width="1.05" stroke-linejoin="round"/><path d="M350.96 193.41L353.11 189.68L348.81 189.68Z" fill="#FED9A6" stroke="#1f1f1f" stroke-width="1.05" stroke-linejoin="round"/><path d="M547.44 160.75L549.59 157.03L545.29 157.03Z" fill="#FED9A6" stroke="#1f1f1f" stroke-width="1.05" stroke-linejoin="round"/><path d="M572.00 136.09L574.15 132.37L569.85 132.37Z" fill="#FED9A6" stroke="#1f1f1f" stroke-width="1.05" stroke-linejoin="round"/><path d="M596.56 133.14L598.71 129.42L594.41 129.42Z" fill="#FED9A6" stroke="#1f1f1f" stroke-width="1.05" stroke-linejoin="round"/><path d="M621.12 115.47L623.27 111.75L618.97 111.75Z" fill="#FED9A6" stroke="#1f1f1f" stroke-width="1.05" stroke-linejoin="round"/><path d="M645.68 107.36L647.83 103.63L643.53 103.63Z" fill="#FED9A6" stroke="#1f1f1f" stroke-width="1.05" stroke-linejoin="round"/><path d="M670.24 109.47L672.39 105.74L668.09 105.74Z" fill="#FED9A6" stroke="#1f1f1f" stroke-width="1.05" stroke-linejoin="round"/><path d="M498.32 158.40L500.47 154.68L496.17 154.68Z" fill="#FED9A6" stroke="#1f1f1f" stroke-width="1.05" stroke-linejoin="round"/><path d="M547.44 130.48L549.59 126.76L545.29 126.76Z" fill="#FED9A6" stroke="#1f1f1f" stroke-width="1.05" stroke-linejoin="round"/><path d="M572.00 121.05L574.15 117.32L569.85 117.32Z" fill="#FED9A6" stroke="#1f1f1f" stroke-width="1.05" stroke-linejoin="round"/><path d="M596.56 102.48L598.71 98.76L594.41 98.76Z" fill="#FED9A6" stroke="#1f1f1f" stroke-width="1.05" stroke-linejoin="round"/><path d="M621.12 95.61L623.27 91.89L618.97 91.89Z" fill="#FED9A6" stroke="#1f1f1f" stroke-width="1.05" stroke-linejoin="round"/><path d="M645.68 82.48L647.83 78.76L643.53 78.76Z" fill="#FED9A6" stroke="#1f1f1f" stroke-width="1.05" stroke-linejoin="round"/><path d="M670.24 76.49L672.39 72.76L668.09 72.76Z" fill="#FED9A6" stroke="#1f1f1f" stroke-width="1.05" stroke-linejoin="round"/><path d="M350.96 196.25L353.11 192.52L348.81 192.52Z" fill="#FED9A6" stroke="#1f1f1f" stroke-width="1.05" stroke-linejoin="round"/><path d="M547.44 146.08L549.59 142.36L545.29 142.36Z" fill="#FED9A6" stroke="#1f1f1f" stroke-width="1.05" stroke-linejoin="round"/><path d="M572.00 124.38L574.15 120.65L569.85 120.65Z" fill="#FED9A6" stroke="#1f1f1f" stroke-width="1.05" stroke-linejoin="round"/><path d="M596.56 110.45L598.71 106.73L594.41 106.73Z" fill="#FED9A6" stroke="#1f1f1f" stroke-width="1.05" stroke-linejoin="round"/><path d="M621.12 102.71L623.27 98.98L618.97 98.98Z" fill="#FED9A6" stroke="#1f1f1f" stroke-width="1.05" stroke-linejoin="round"/><path d="M645.68 90.73L647.83 87.00L643.53 87.00Z" fill="#FED9A6" stroke="#1f1f1f" stroke-width="1.05" stroke-linejoin="round"/><path d="M670.24 87.89L672.39 84.16L668.09 84.16Z" fill="#FED9A6" stroke="#1f1f1f" stroke-width="1.05" stroke-linejoin="round"/><path d="M547.44 134.69L549.59 130.97L545.29 130.97Z" fill="#FED9A6" stroke="#1f1f1f" stroke-width="1.05" stroke-linejoin="round"/><path d="M572.00 120.11L574.15 116.39L569.85 116.39Z" fill="#FED9A6" stroke="#1f1f1f" stroke-width="1.05" stroke-linejoin="round"/><path d="M596.56 103.71L598.71 99.99L594.41 99.99Z" fill="#FED9A6" stroke="#1f1f1f" stroke-width="1.05" stroke-linejoin="round"/><path d="M621.12 97.82L623.27 94.09L618.97 94.09Z" fill="#FED9A6" stroke="#1f1f1f" stroke-width="1.05" stroke-linejoin="round"/><path d="M645.68 88.93L647.83 85.20L643.53 85.20Z" fill="#FED9A6" stroke="#1f1f1f" stroke-width="1.05" stroke-linejoin="round"/><path d="M670.24 76.48L672.39 72.76L668.09 72.76Z" fill="#FED9A6" stroke="#1f1f1f" stroke-width="1.05" stroke-linejoin="round"/><path d="M350.96 202.35L353.11 198.62L348.81 198.62Z" fill="#FED9A6" stroke="#1f1f1f" stroke-width="1.05" stroke-linejoin="round"/><path d="M449.20 156.59L451.35 152.87L447.05 152.87Z" fill="#FED9A6" stroke="#1f1f1f" stroke-width="1.05" stroke-linejoin="round"/><path d="M473.76 163.33L475.91 159.61L471.61 159.61Z" fill="#FED9A6" stroke="#1f1f1f" stroke-width="1.05" stroke-linejoin="round"/><path d="M547.44 132.77L549.59 129.05L545.29 129.05Z" fill="#FED9A6" stroke="#1f1f1f" stroke-width="1.05" stroke-linejoin="round"/><path d="M572.00 121.22L574.15 117.50L569.85 117.50Z" fill="#FED9A6" stroke="#1f1f1f" stroke-width="1.05" stroke-linejoin="round"/><path d="M596.56 108.81L598.71 105.09L594.41 105.09Z" fill="#FED9A6" stroke="#1f1f1f" stroke-width="1.05" stroke-linejoin="round"/><path d="M621.12 96.72L623.27 92.99L618.97 92.99Z" fill="#FED9A6" stroke="#1f1f1f" stroke-width="1.05" stroke-linejoin="round"/><path d="M645.68 89.22L647.83 85.49L643.53 85.49Z" fill="#FED9A6" stroke="#1f1f1f" stroke-width="1.05" stroke-linejoin="round"/><path d="M670.24 87.08L672.39 83.36L668.09 83.36Z" fill="#FED9A6" stroke="#1f1f1f" stroke-width="1.05" stroke-linejoin="round"/><path d="M350.96 190.30L353.11 186.57L348.81 186.57Z" fill="#FED9A6" stroke="#1f1f1f" stroke-width="1.05" stroke-linejoin="round"/><path d="M547.44 150.57L549.59 146.84L545.29 146.84Z" fill="#FED9A6" stroke="#1f1f1f" stroke-width="1.05" stroke-linejoin="round"/><path d="M572.00 133.07L574.15 129.35L569.85 129.35Z" fill="#FED9A6" stroke="#1f1f1f" stroke-width="1.05" stroke-linejoin="round"/><path d="M596.56 123.53L598.71 119.81L594.41 119.81Z" fill="#FED9A6" stroke="#1f1f1f" stroke-width="1.05" stroke-linejoin="round"/><path d="M621.12 108.03L623.27 104.31L618.97 104.31Z" fill="#FED9A6" stroke="#1f1f1f" stroke-width="1.05" stroke-linejoin="round"/><path d="M645.68 99.91L647.83 96.19L643.53 96.19Z" fill="#FED9A6" stroke="#1f1f1f" stroke-width="1.05" stroke-linejoin="round"/><path d="M670.24 93.46L672.39 89.74L668.09 89.74Z" fill="#FED9A6" stroke="#1f1f1f" stroke-width="1.05" stroke-linejoin="round"/><path d="M547.44 144.01L549.59 140.28L545.29 140.28Z" fill="#FED9A6" stroke="#1f1f1f" stroke-width="1.05" stroke-linejoin="round"/><path d="M572.00 128.27L574.15 124.54L569.85 124.54Z" fill="#FED9A6" stroke="#1f1f1f" stroke-width="1.05" stroke-linejoin="round"/><path d="M596.56 112.70L598.71 108.98L594.41 108.98Z" fill="#FED9A6" stroke="#1f1f1f" stroke-width="1.05" stroke-linejoin="round"/><path d="M621.12 107.96L623.27 104.24L618.97 104.24Z" fill="#FED9A6" stroke="#1f1f1f" stroke-width="1.05" stroke-linejoin="round"/><path d="M645.68 98.20L647.83 94.47L643.53 94.47Z" fill="#FED9A6" stroke="#1f1f1f" stroke-width="1.05" stroke-linejoin="round"/><path d="M670.24 85.14L672.39 81.42L668.09 81.42Z" fill="#FED9A6" stroke="#1f1f1f" stroke-width="1.05" stroke-linejoin="round"/><path d="M350.96 187.23L353.11 183.51L348.81 183.51Z" fill="#FED9A6" stroke="#1f1f1f" stroke-width="1.05" stroke-linejoin="round"/><path d="M547.44 140.67L549.59 136.95L545.29 136.95Z" fill="#FED9A6" stroke="#1f1f1f" stroke-width="1.05" stroke-linejoin="round"/><path d="M572.00 124.50L574.15 120.78L569.85 120.78Z" fill="#FED9A6" stroke="#1f1f1f" stroke-width="1.05" stroke-linejoin="round"/><path d="M596.56 114.79L598.71 111.06L594.41 111.06Z" fill="#FED9A6" stroke="#1f1f1f" stroke-width="1.05" stroke-linejoin="round"/><path d="M621.12 105.39L623.27 101.66L618.97 101.66Z" fill="#FED9A6" stroke="#1f1f1f" stroke-width="1.05" stroke-linejoin="round"/><path d="M645.68 101.55L647.83 97.82L643.53 97.82Z" fill="#FED9A6" stroke="#1f1f1f" stroke-width="1.05" stroke-linejoin="round"/><path d="M670.24 97.34L672.39 93.62L668.09 93.62Z" fill="#FED9A6" stroke="#1f1f1f" stroke-width="1.05" stroke-linejoin="round"/><path d="M547.44 162.72L549.59 158.99L545.29 158.99Z" fill="#FED9A6" stroke="#1f1f1f" stroke-width="1.05" stroke-linejoin="round"/><path d="M572.00 144.48L574.15 140.76L569.85 140.76Z" fill="#FED9A6" stroke="#1f1f1f" stroke-width="1.05" stroke-linejoin="round"/><path d="M596.56 137.41L598.71 133.69L594.41 133.69Z" fill="#FED9A6" stroke="#1f1f1f" stroke-width="1.05" stroke-linejoin="round"/><path d="M621.12 126.01L623.27 122.28L618.97 122.28Z" fill="#FED9A6" stroke="#1f1f1f" stroke-width="1.05" stroke-linejoin="round"/><path d="M645.68 117.69L647.83 113.96L643.53 113.96Z" fill="#FED9A6" stroke="#1f1f1f" stroke-width="1.05" stroke-linejoin="round"/><path d="M670.24 113.47L672.39 109.74L668.09 109.74Z" fill="#FED9A6" stroke="#1f1f1f" stroke-width="1.05" stroke-linejoin="round"/><path d="M498.32 147.23L500.47 143.50L496.17 143.50Z" fill="#FED9A6" stroke="#1f1f1f" stroke-width="1.05" stroke-linejoin="round"/><path d="M547.44 138.97L549.59 135.25L545.29 135.25Z" fill="#FED9A6" stroke="#1f1f1f" stroke-width="1.05" stroke-linejoin="round"/><path d="M572.00 122.52L574.15 118.80L569.85 118.80Z" fill="#FED9A6" stroke="#1f1f1f" stroke-width="1.05" stroke-linejoin="round"/><path d="M596.56 106.41L598.71 102.69L594.41 102.69Z" fill="#FED9A6" stroke="#1f1f1f" stroke-width="1.05" stroke-linejoin="round"/><path d="M621.12 100.46L623.27 96.74L618.97 96.74Z" fill="#FED9A6" stroke="#1f1f1f" stroke-width="1.05" stroke-linejoin="round"/><path d="M645.68 91.09L647.83 87.36L643.53 87.36Z" fill="#FED9A6" stroke="#1f1f1f" stroke-width="1.05" stroke-linejoin="round"/><path d="M670.24 84.30L672.39 80.57L668.09 80.57Z" fill="#FED9A6" stroke="#1f1f1f" stroke-width="1.05" stroke-linejoin="round"/><path d="M350.96 184.52L353.11 180.79L348.81 180.79Z" fill="#FED9A6" stroke="#1f1f1f" stroke-width="1.05" stroke-linejoin="round"/><path d="M547.44 143.05L549.59 139.33L545.29 139.33Z" fill="#FED9A6" stroke="#1f1f1f" stroke-width="1.05" stroke-linejoin="round"/><path d="M572.00 123.26L574.15 119.54L569.85 119.54Z" fill="#FED9A6" stroke="#1f1f1f" stroke-width="1.05" stroke-linejoin="round"/><path d="M596.56 108.61L598.71 104.89L594.41 104.89Z" fill="#FED9A6" stroke="#1f1f1f" stroke-width="1.05" stroke-linejoin="round"/><path d="M621.12 98.64L623.27 94.92L618.97 94.92Z" fill="#FED9A6" stroke="#1f1f1f" stroke-width="1.05" stroke-linejoin="round"/><path d="M645.68 96.77L647.83 93.04L643.53 93.04Z" fill="#FED9A6" stroke="#1f1f1f" stroke-width="1.05" stroke-linejoin="round"/><path d="M670.24 88.03L672.39 84.31L668.09 84.31Z" fill="#FED9A6" stroke="#1f1f1f" stroke-width="1.05" stroke-linejoin="round"/><path d="M547.44 166.48L549.59 162.76L545.29 162.76Z" fill="#FED9A6" stroke="#1f1f1f" stroke-width="1.05" stroke-linejoin="round"/><path d="M572.00 144.48L574.15 140.76L569.85 140.76Z" fill="#FED9A6" stroke="#1f1f1f" stroke-width="1.05" stroke-linejoin="round"/><path d="M596.56 132.37L598.71 128.64L594.41 128.64Z" fill="#FED9A6" stroke="#1f1f1f" stroke-width="1.05" stroke-linejoin="round"/><path d="M621.12 127.44L623.27 123.72L618.97 123.72Z" fill="#FED9A6" stroke="#1f1f1f" stroke-width="1.05" stroke-linejoin="round"/><path d="M645.68 118.55L647.83 114.83L643.53 114.83Z" fill="#FED9A6" stroke="#1f1f1f" stroke-width="1.05" stroke-linejoin="round"/><path d="M670.24 111.20L672.39 107.48L668.09 107.48Z" fill="#FED9A6" stroke="#1f1f1f" stroke-width="1.05" stroke-linejoin="round"/><path d="M547.44 153.45L549.59 149.73L545.29 149.73Z" fill="#FED9A6" stroke="#1f1f1f" stroke-width="1.05" stroke-linejoin="round"/><path d="M572.00 133.41L574.15 129.69L569.85 129.69Z" fill="#FED9A6" stroke="#1f1f1f" stroke-width="1.05" stroke-linejoin="round"/><path d="M596.56 125.72L598.71 121.99L594.41 121.99Z" fill="#FED9A6" stroke="#1f1f1f" stroke-width="1.05" stroke-linejoin="round"/><path d="M621.12 118.39L623.27 114.66L618.97 114.66Z" fill="#FED9A6" stroke="#1f1f1f" stroke-width="1.05" stroke-linejoin="round"/><path d="M645.68 105.82L647.83 102.09L643.53 102.09Z" fill="#FED9A6" stroke="#1f1f1f" stroke-width="1.05" stroke-linejoin="round"/><path d="M670.24 103.92L672.39 100.20L668.09 100.20Z" fill="#FED9A6" stroke="#1f1f1f" stroke-width="1.05" stroke-linejoin="round"/></g>
<rect x="326.3" y="16.8" width="241.3" height="74.6" fill="#fff"/>
<text x="332.60" y="29.20" font-size="11.7" text-anchor="start" fill="#1a1a1a" color="#1a1a1a" font-weight="normal" >Olivine-carbonate vein</text>
<text x="454.60" y="29.20" font-size="11.7" text-anchor="start" fill="#1a1a1a" color="#1a1a1a" font-weight="normal" >Olivine-diopside vein</text>
<rect x="333.8" y="34.6" width="17.4" height="52.5" fill="#F2F2F2"/>
<rect x="455.2" y="34.3" width="17.6" height="34.0" fill="#F2F2F2"/>
<line x1="335.50" y1="43.80" x2="349.50" y2="43.80" stroke="#B3CDE3" stroke-width="1.1"/>
<line x1="335.50" y1="61.10" x2="349.50" y2="61.10" stroke="#CCEBC5" stroke-width="1.1"/>
<line x1="335.50" y1="78.30" x2="349.50" y2="78.30" stroke="#DECBE4" stroke-width="1.1"/>
<line x1="457.00" y1="42.90" x2="471.00" y2="42.90" stroke="#FED9A6" stroke-width="1.1"/>
<line x1="457.00" y1="59.90" x2="471.00" y2="59.90" stroke="#FBB4AE" stroke-width="1.1"/>
<rect x="339.70" y="41.00" width="5.60" height="5.60" fill="#B3CDE3" stroke="#1f1f1f" stroke-width="1.0"/>
<path d="M342.40 57.00L346.50 61.10L342.40 65.20L338.30 61.10Z" fill="#CCEBC5" stroke="#1f1f1f" stroke-width="1.0" stroke-linejoin="round"/>
<path d="M342.40 72.36L347.20 80.67L337.60 80.67Z" fill="#DECBE4" stroke="#1f1f1f" stroke-width="1.0" stroke-linejoin="round"/>
<path d="M464.00 48.33L468.70 40.19L459.30 40.19Z" fill="#FED9A6" stroke="#1f1f1f" stroke-width="1.0" stroke-linejoin="round"/>
<circle cx="464.10" cy="59.90" r="3.65" fill="#FBB4AE" stroke="#1f1f1f" stroke-width="1.0"/>
<text x="360.50" y="47.00" font-size="10.8" text-anchor="start" fill="#1a1a1a" color="#1a1a1a" font-weight="normal" >Z20&#8722;12</text>
<text x="360.50" y="64.40" font-size="10.8" text-anchor="start" fill="#1a1a1a" color="#1a1a1a" font-weight="normal" >Z20&#8722;6</text>
<text x="360.50" y="81.70" font-size="10.8" text-anchor="start" fill="#1a1a1a" color="#1a1a1a" font-weight="normal" >Z20&#8722;9</text>
<text x="482.60" y="46.90" font-size="10.8" text-anchor="start" fill="#1a1a1a" color="#1a1a1a" font-weight="normal" >ZS21&#8722;42</text>
<text x="482.60" y="64.50" font-size="10.8" text-anchor="start" fill="#1a1a1a" color="#1a1a1a" font-weight="normal" >Z20&#8722;11</text>
</svg></body></html>
